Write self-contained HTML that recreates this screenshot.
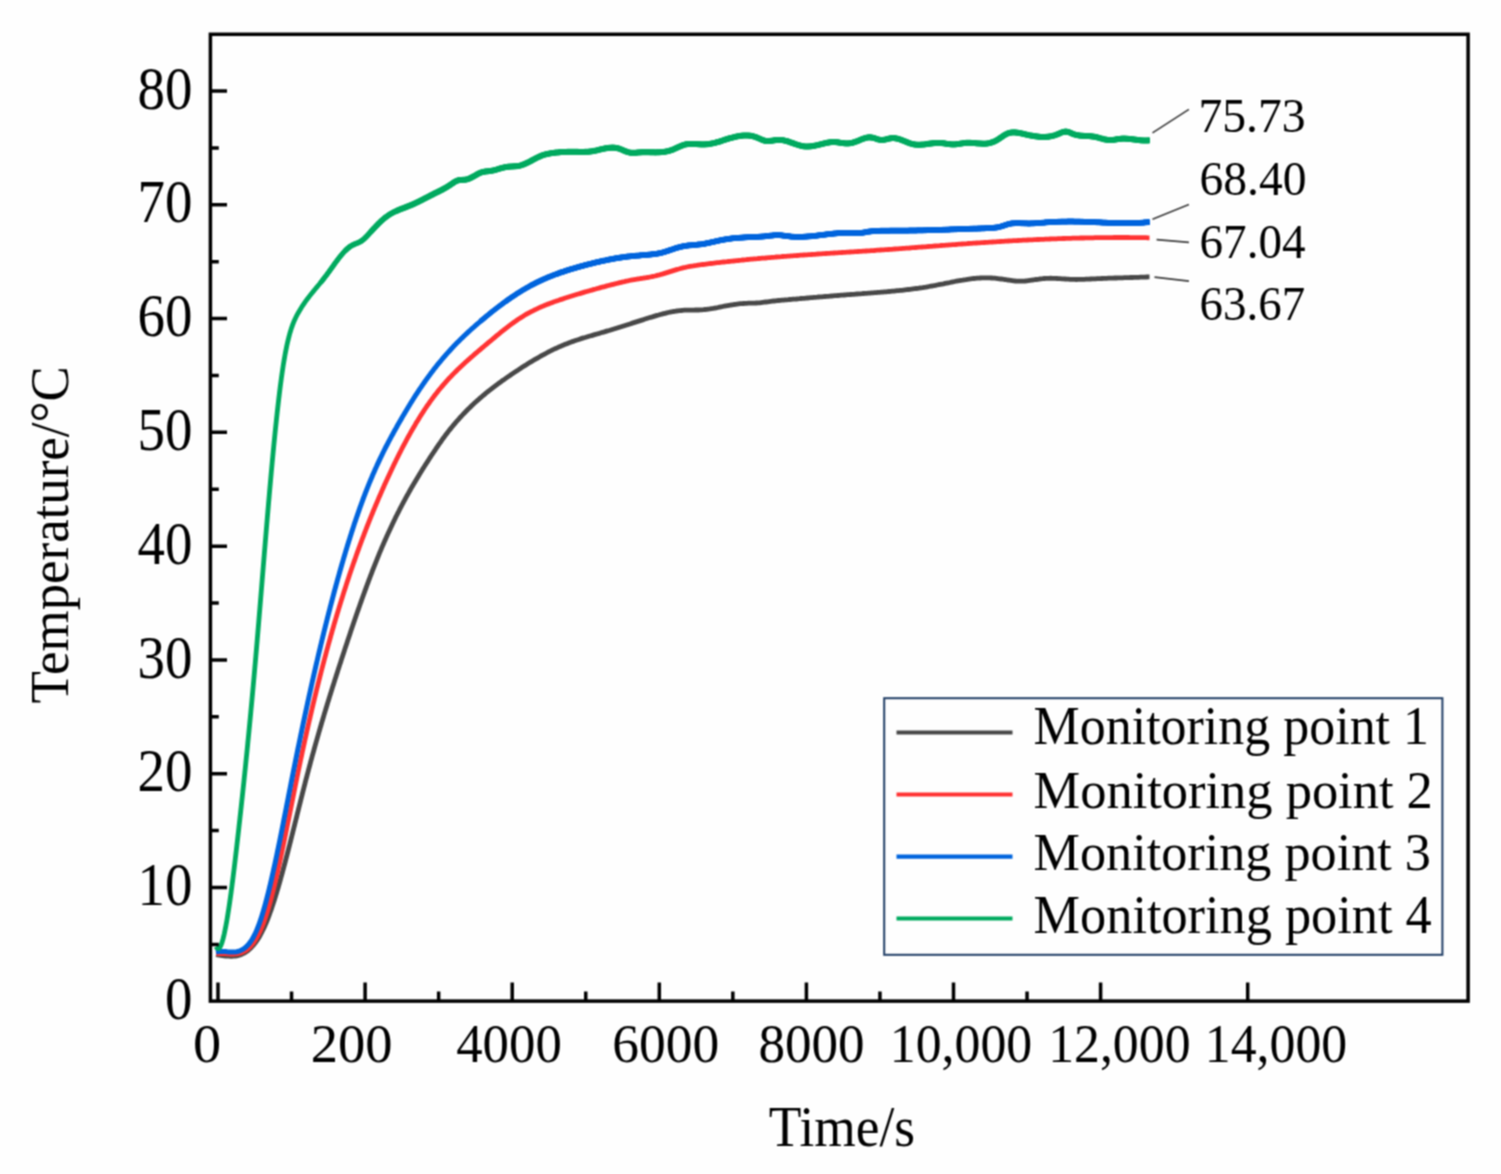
<!DOCTYPE html>
<html><head><meta charset="utf-8"><title>Temperature vs Time</title>
<style>html,body{margin:0;padding:0;background:#fefefe;overflow:hidden;width:1501px;height:1174px;}svg{display:block;}</style>
</head><body>
<svg width="1501" height="1174" viewBox="0 0 1501 1174"><defs><filter id="bl" x="0" y="0" width="100%" height="100%" color-interpolation-filters="sRGB"><feConvolveMatrix order="3" kernelMatrix="1 2 1 2 4 2 1 2 1" divisor="16" edgeMode="duplicate" preserveAlpha="false"/></filter></defs><g filter="url(#bl)"><rect x="0" y="0" width="1501" height="1174" fill="#fefefe"/>
<path d="M216.0,954.6 L217.6,954.8 L219.2,955.1 L220.8,955.3 L222.4,955.6 L224.0,955.8 L225.6,956.0 L227.2,956.1 L228.8,956.2 L230.4,956.3 L232.0,956.3 L233.6,956.2 L235.2,956.0 L236.8,955.8 L238.4,955.4 L240.0,954.9 L241.5,954.4 L243.0,953.7 L244.5,952.9 L245.9,952.0 L247.3,951.0 L248.6,950.0 L249.9,948.9 L251.1,947.7 L252.3,946.4 L253.4,945.2 L254.5,943.8 L255.5,942.5 L256.5,941.1 L257.4,939.8 L258.3,938.4 L259.2,936.9 L260.1,935.4 L260.9,933.9 L261.7,932.4 L262.5,930.8 L263.3,929.2 L264.0,927.7 L264.7,926.2 L265.4,924.6 L266.1,923.0 L266.8,921.3 L267.4,919.8 L268.0,918.3 L268.6,916.7 L269.2,915.1 L269.8,913.5 L270.4,911.8 L271.0,910.1 L271.6,908.4 L272.2,906.6 L272.8,904.8 L273.3,903.3 L273.8,901.8 L274.3,900.2 L274.8,898.6 L275.3,897.0 L275.8,895.4 L276.3,893.8 L276.8,892.1 L277.3,890.4 L277.8,888.7 L278.3,887.0 L278.8,885.3 L279.3,883.5 L279.8,881.8 L280.3,880.0 L280.8,878.2 L281.3,876.4 L281.8,874.6 L282.3,872.8 L282.8,870.9 L283.3,869.1 L283.8,867.2 L284.3,865.3 L284.8,863.5 L285.3,861.6 L285.8,859.7 L286.3,857.7 L286.8,855.8 L287.3,853.9 L287.7,852.3 L288.1,850.8 L288.5,849.2 L288.9,847.6 L289.3,846.1 L289.7,844.5 L290.1,842.9 L290.5,841.3 L290.9,839.7 L291.3,838.1 L291.7,836.5 L292.1,834.9 L292.5,833.3 L292.9,831.7 L293.3,830.1 L293.7,828.5 L294.1,826.9 L294.5,825.3 L294.9,823.7 L295.3,822.1 L295.7,820.5 L296.1,818.9 L296.5,817.3 L296.9,815.7 L297.3,814.0 L297.7,812.4 L298.1,810.8 L298.5,809.2 L298.9,807.6 L299.3,806.0 L299.7,804.4 L300.1,802.8 L300.5,801.2 L300.9,799.6 L301.3,798.0 L301.7,796.4 L302.1,794.8 L302.5,793.2 L302.9,791.6 L303.3,790.1 L303.7,788.5 L304.1,786.9 L304.5,785.3 L304.9,783.8 L305.3,782.2 L305.7,780.7 L306.2,778.7 L306.7,776.8 L307.2,774.9 L307.7,773.0 L308.2,771.1 L308.7,769.2 L309.2,767.3 L309.7,765.5 L310.2,763.6 L310.7,761.7 L311.2,759.9 L311.7,758.1 L312.2,756.2 L312.7,754.4 L313.2,752.6 L313.7,750.8 L314.2,749.0 L314.7,747.2 L315.2,745.4 L315.7,743.6 L316.2,741.9 L316.7,740.1 L317.2,738.3 L317.7,736.6 L318.2,734.8 L318.7,733.1 L319.2,731.4 L319.7,729.7 L320.2,727.9 L320.7,726.2 L321.2,724.5 L321.7,722.8 L322.2,721.1 L322.7,719.5 L323.2,717.8 L323.7,716.1 L324.2,714.4 L324.7,712.8 L325.2,711.1 L325.7,709.5 L326.2,707.8 L326.7,706.2 L327.2,704.5 L327.7,702.9 L328.2,701.3 L328.7,699.7 L329.2,698.0 L329.7,696.4 L330.2,694.8 L330.7,693.2 L331.2,691.6 L331.7,690.0 L332.2,688.4 L332.7,686.8 L333.2,685.2 L333.7,683.7 L334.2,682.1 L334.7,680.5 L335.2,678.9 L335.7,677.4 L336.2,675.8 L336.7,674.3 L337.2,672.7 L337.7,671.1 L338.2,669.6 L338.7,668.0 L339.2,666.5 L339.7,664.9 L340.2,663.4 L340.7,661.9 L341.2,660.3 L341.7,658.8 L342.2,657.3 L342.7,655.7 L343.2,654.2 L343.7,652.7 L344.2,651.2 L344.7,649.6 L345.3,647.8 L345.9,646.0 L346.5,644.2 L347.1,642.4 L347.7,640.6 L348.3,638.8 L348.9,637.0 L349.5,635.2 L350.1,633.4 L350.7,631.6 L351.3,629.8 L351.9,628.0 L352.5,626.3 L353.1,624.5 L353.7,622.8 L354.3,621.0 L354.9,619.3 L355.5,617.5 L356.1,615.8 L356.7,614.0 L357.3,612.3 L357.9,610.6 L358.5,608.9 L359.1,607.2 L359.7,605.5 L360.3,603.8 L360.9,602.1 L361.5,600.4 L362.1,598.7 L362.7,597.0 L363.3,595.4 L363.9,593.7 L364.5,592.1 L365.1,590.4 L365.7,588.8 L366.3,587.1 L366.9,585.5 L367.5,583.9 L368.1,582.3 L368.7,580.7 L369.3,579.1 L369.9,577.5 L370.5,575.9 L371.1,574.3 L371.7,572.8 L372.3,571.2 L372.9,569.7 L373.5,568.1 L374.1,566.6 L374.7,565.1 L375.3,563.6 L375.9,562.1 L376.5,560.6 L377.1,559.1 L377.8,557.3 L378.5,555.6 L379.2,553.9 L379.9,552.2 L380.6,550.6 L381.3,548.9 L382.0,547.2 L382.7,545.6 L383.4,544.0 L384.1,542.4 L384.8,540.8 L385.5,539.2 L386.2,537.6 L386.9,536.0 L387.6,534.5 L388.3,532.9 L389.0,531.4 L389.7,529.9 L390.4,528.4 L391.1,526.9 L391.8,525.4 L392.5,523.9 L393.2,522.5 L393.9,521.0 L394.6,519.6 L395.4,517.9 L396.2,516.3 L397.0,514.7 L397.8,513.1 L398.6,511.6 L399.4,510.0 L400.2,508.4 L401.0,506.9 L401.8,505.4 L402.6,503.8 L403.4,502.3 L404.2,500.9 L405.0,499.4 L405.8,497.9 L406.6,496.4 L407.4,495.0 L408.2,493.6 L409.0,492.1 L409.8,490.7 L410.6,489.3 L411.4,487.9 L412.2,486.5 L413.1,485.0 L414.0,483.4 L414.9,481.9 L415.8,480.4 L416.7,478.9 L417.6,477.4 L418.5,475.9 L419.4,474.4 L420.3,473.0 L421.2,471.5 L422.1,470.1 L423.0,468.6 L423.9,467.2 L424.8,465.8 L425.7,464.4 L426.6,463.0 L427.5,461.6 L428.4,460.2 L429.3,458.8 L430.2,457.4 L431.1,456.0 L432.0,454.7 L432.9,453.3 L433.8,452.0 L434.7,450.6 L435.6,449.3 L436.5,447.9 L437.4,446.6 L438.4,445.1 L439.4,443.7 L440.4,442.3 L441.4,440.8 L442.4,439.4 L443.4,438.0 L444.4,436.7 L445.4,435.3 L446.4,434.0 L447.4,432.7 L448.4,431.4 L449.4,430.1 L450.4,428.9 L451.5,427.5 L452.6,426.2 L453.7,424.8 L454.8,423.6 L455.9,422.3 L457.0,421.0 L458.1,419.8 L459.2,418.6 L460.3,417.3 L461.4,416.2 L462.5,415.0 L463.7,413.7 L464.9,412.5 L466.1,411.2 L467.3,410.0 L468.5,408.8 L469.7,407.7 L470.9,406.5 L472.1,405.3 L473.3,404.2 L474.5,403.1 L475.7,402.0 L476.9,400.9 L478.1,399.9 L479.4,398.7 L480.7,397.6 L482.0,396.5 L483.3,395.4 L484.6,394.3 L485.9,393.2 L487.2,392.2 L488.5,391.1 L489.8,390.1 L491.1,389.1 L492.4,388.1 L493.7,387.1 L495.0,386.1 L496.3,385.1 L497.6,384.2 L498.9,383.2 L500.2,382.3 L501.5,381.3 L502.9,380.3 L504.3,379.4 L505.7,378.4 L507.1,377.4 L508.5,376.4 L509.9,375.5 L511.3,374.5 L512.7,373.6 L514.1,372.6 L515.5,371.7 L516.9,370.8 L518.3,369.9 L519.7,368.9 L521.1,368.0 L522.5,367.1 L523.9,366.2 L525.3,365.4 L526.7,364.5 L528.1,363.6 L529.5,362.7 L530.9,361.9 L532.3,361.1 L533.7,360.2 L535.1,359.4 L536.5,358.6 L537.9,357.8 L539.3,357.0 L540.7,356.2 L542.1,355.4 L543.6,354.6 L545.1,353.8 L546.6,353.0 L548.1,352.2 L549.6,351.4 L551.1,350.7 L552.6,349.9 L554.1,349.2 L555.6,348.5 L557.1,347.8 L558.6,347.1 L560.1,346.5 L561.6,345.8 L563.1,345.2 L564.6,344.6 L566.1,344.0 L567.6,343.4 L569.1,342.8 L570.7,342.2 L572.3,341.6 L573.9,341.1 L575.5,340.5 L577.1,340.0 L578.7,339.5 L580.3,338.9 L581.9,338.4 L583.5,337.9 L585.1,337.5 L586.7,337.0 L588.3,336.5 L589.9,336.0 L591.5,335.6 L593.1,335.1 L594.7,334.6 L596.3,334.2 L597.9,333.7 L599.5,333.3 L601.1,332.8 L602.7,332.3 L604.3,331.9 L605.9,331.4 L607.5,330.9 L609.1,330.5 L610.7,330.0 L612.3,329.5 L613.9,329.0 L615.5,328.5 L617.1,328.0 L618.7,327.5 L620.3,327.0 L621.9,326.5 L623.5,326.0 L625.1,325.5 L626.7,325.0 L628.3,324.5 L629.9,324.0 L631.5,323.4 L633.1,322.9 L634.7,322.4 L636.3,321.9 L637.9,321.4 L639.5,320.9 L641.1,320.4 L642.7,319.9 L644.3,319.3 L645.9,318.8 L647.5,318.3 L649.1,317.8 L650.7,317.3 L652.3,316.9 L653.9,316.4 L655.5,315.9 L657.1,315.4 L658.7,315.0 L660.3,314.5 L661.9,314.1 L663.5,313.7 L665.1,313.3 L666.7,312.9 L668.3,312.5 L669.9,312.2 L671.5,311.8 L673.1,311.5 L674.7,311.3 L676.3,311.0 L677.9,310.8 L679.5,310.6 L681.1,310.5 L682.7,310.3 L684.3,310.2 L685.9,310.2 L687.5,310.1 L689.1,310.1 L690.7,310.1 L692.3,310.1 L693.9,310.1 L695.5,310.0 L697.1,310.0 L698.7,310.0 L700.3,309.9 L701.9,309.8 L703.5,309.7 L705.1,309.5 L706.7,309.4 L708.3,309.1 L709.9,308.9 L711.5,308.6 L713.1,308.4 L714.7,308.1 L716.3,307.8 L717.9,307.5 L719.5,307.1 L721.1,306.8 L722.7,306.5 L724.3,306.2 L725.9,305.9 L727.5,305.6 L729.1,305.3 L730.7,305.0 L732.3,304.8 L733.9,304.5 L735.5,304.3 L737.1,304.1 L738.7,303.9 L740.3,303.7 L741.9,303.6 L743.5,303.5 L745.1,303.4 L746.7,303.3 L748.3,303.2 L749.9,303.2 L751.5,303.2 L753.1,303.1 L754.7,303.1 L756.3,303.0 L757.9,302.9 L759.5,302.8 L761.1,302.6 L762.7,302.4 L764.3,302.2 L765.9,302.0 L767.5,301.8 L769.1,301.6 L770.7,301.4 L772.3,301.2 L773.9,301.0 L775.5,300.9 L777.1,300.7 L778.7,300.5 L780.3,300.4 L781.9,300.2 L783.5,300.1 L785.1,299.9 L786.7,299.8 L788.3,299.7 L789.9,299.5 L791.5,299.4 L793.1,299.2 L794.7,299.1 L796.3,299.0 L797.9,298.8 L799.5,298.7 L801.1,298.5 L802.7,298.4 L804.3,298.3 L805.9,298.1 L807.5,298.0 L809.1,297.9 L810.7,297.7 L812.3,297.6 L813.9,297.4 L815.5,297.3 L817.1,297.2 L818.7,297.0 L820.3,296.9 L821.9,296.8 L823.5,296.6 L825.1,296.5 L826.7,296.4 L828.3,296.3 L829.9,296.1 L831.5,296.0 L833.1,295.9 L834.7,295.7 L836.3,295.6 L837.9,295.5 L839.5,295.4 L841.1,295.2 L842.7,295.1 L844.3,295.0 L845.9,294.9 L847.5,294.7 L849.1,294.6 L850.7,294.5 L852.3,294.4 L853.9,294.3 L855.5,294.1 L857.1,294.0 L858.7,293.9 L860.3,293.8 L861.9,293.7 L863.5,293.5 L865.1,293.4 L866.7,293.3 L868.3,293.2 L869.9,293.1 L871.5,292.9 L873.1,292.8 L874.7,292.7 L876.3,292.6 L877.9,292.4 L879.5,292.3 L881.1,292.2 L882.7,292.1 L884.3,291.9 L885.9,291.8 L887.5,291.6 L889.1,291.5 L890.7,291.4 L892.3,291.2 L893.9,291.1 L895.5,290.9 L897.1,290.7 L898.7,290.6 L900.3,290.4 L901.9,290.3 L903.5,290.1 L905.1,289.9 L906.7,289.7 L908.3,289.5 L909.9,289.3 L911.5,289.1 L913.1,288.9 L914.7,288.7 L916.3,288.5 L917.9,288.3 L919.5,288.0 L921.1,287.8 L922.7,287.6 L924.3,287.3 L925.9,287.1 L927.5,286.8 L929.1,286.5 L930.7,286.2 L932.3,286.0 L933.9,285.7 L935.5,285.4 L937.1,285.0 L938.7,284.7 L940.3,284.4 L941.9,284.1 L943.5,283.8 L945.1,283.4 L946.7,283.1 L948.3,282.8 L949.9,282.5 L951.5,282.1 L953.1,281.8 L954.7,281.5 L956.3,281.2 L957.9,280.9 L959.5,280.6 L961.1,280.3 L962.7,280.1 L964.3,279.8 L965.9,279.6 L967.5,279.3 L969.1,279.1 L970.7,278.9 L972.3,278.7 L973.9,278.5 L975.5,278.4 L977.1,278.2 L978.7,278.1 L980.3,278.0 L981.9,277.9 L983.5,277.9 L985.1,277.9 L986.7,277.8 L988.3,277.9 L989.9,277.9 L991.5,278.0 L993.1,278.1 L994.7,278.2 L996.3,278.4 L997.9,278.6 L999.5,278.8 L1001.1,279.0 L1002.7,279.2 L1004.3,279.5 L1005.9,279.7 L1007.5,280.0 L1009.1,280.2 L1010.7,280.4 L1012.3,280.6 L1013.9,280.8 L1015.5,281.0 L1017.1,281.1 L1018.7,281.2 L1020.3,281.2 L1021.9,281.2 L1023.5,281.1 L1025.1,281.0 L1026.7,280.8 L1028.3,280.6 L1029.9,280.4 L1031.5,280.2 L1033.1,280.0 L1034.7,279.7 L1036.3,279.5 L1037.9,279.3 L1039.5,279.0 L1041.1,278.8 L1042.7,278.7 L1044.3,278.5 L1045.9,278.4 L1047.5,278.3 L1049.1,278.3 L1050.7,278.2 L1052.3,278.3 L1053.9,278.3 L1055.5,278.4 L1057.1,278.5 L1058.7,278.6 L1060.3,278.7 L1061.9,278.8 L1063.5,278.9 L1065.1,279.0 L1066.7,279.1 L1068.3,279.2 L1069.9,279.3 L1071.5,279.4 L1073.1,279.4 L1074.7,279.4 L1076.3,279.5 L1077.9,279.4 L1079.5,279.4 L1081.1,279.4 L1082.7,279.4 L1084.3,279.3 L1085.9,279.2 L1087.5,279.2 L1089.1,279.1 L1090.7,279.0 L1092.3,278.9 L1093.9,278.9 L1095.5,278.8 L1097.1,278.7 L1098.7,278.6 L1100.3,278.6 L1101.9,278.5 L1103.5,278.4 L1105.1,278.4 L1106.7,278.3 L1108.3,278.2 L1109.9,278.2 L1111.5,278.1 L1113.1,278.1 L1114.7,278.0 L1116.3,278.0 L1117.9,277.9 L1119.5,277.9 L1121.1,277.8 L1122.7,277.8 L1124.3,277.7 L1125.9,277.7 L1127.5,277.6 L1129.1,277.6 L1130.7,277.5 L1132.3,277.5 L1133.9,277.4 L1135.5,277.4 L1137.1,277.3 L1138.7,277.3 L1140.3,277.2 L1141.9,277.2 L1143.5,277.1 L1145.1,277.1 L1146.7,277.0 L1148.3,276.9 L1149.5,276.9" fill="none" stroke="#484848" stroke-width="4.8" stroke-linejoin="round" stroke-linecap="butt"/>
<path d="M216.0,953.7 L217.6,953.6 L219.2,953.5 L220.8,953.4 L222.4,953.5 L224.0,953.6 L225.6,953.7 L227.2,953.8 L228.8,953.9 L230.4,954.0 L232.0,954.0 L233.6,954.0 L235.2,953.9 L236.8,953.8 L238.4,953.5 L240.0,953.1 L241.6,952.6 L243.1,951.9 L244.6,951.2 L246.0,950.3 L247.3,949.3 L248.6,948.2 L249.8,947.1 L251.0,945.8 L252.1,944.5 L253.1,943.3 L254.1,941.9 L255.0,940.5 L255.9,939.1 L256.8,937.6 L257.6,936.1 L258.4,934.6 L259.2,933.0 L259.9,931.6 L260.6,930.0 L261.3,928.4 L262.0,926.8 L262.7,925.0 L263.3,923.5 L263.9,921.9 L264.5,920.2 L265.1,918.5 L265.7,916.8 L266.3,915.0 L266.8,913.4 L267.3,911.8 L267.8,910.2 L268.3,908.5 L268.8,906.8 L269.3,905.1 L269.8,903.3 L270.3,901.5 L270.8,899.7 L271.3,897.8 L271.8,895.9 L272.3,893.9 L272.7,892.4 L273.1,890.8 L273.5,889.2 L273.9,887.6 L274.3,885.9 L274.7,884.2 L275.1,882.6 L275.5,880.9 L275.9,879.2 L276.3,877.4 L276.7,875.7 L277.1,874.0 L277.5,872.2 L277.9,870.4 L278.3,868.6 L278.7,866.8 L279.1,865.0 L279.5,863.2 L279.9,861.3 L280.3,859.5 L280.7,857.6 L281.1,855.7 L281.5,853.8 L281.9,851.9 L282.3,850.0 L282.7,848.1 L283.1,846.2 L283.5,844.3 L283.9,842.3 L284.3,840.4 L284.7,838.4 L285.1,836.5 L285.5,834.5 L285.9,832.6 L286.3,830.6 L286.7,828.6 L287.1,826.6 L287.5,824.6 L287.9,822.6 L288.3,820.7 L288.7,818.7 L289.1,816.7 L289.5,814.7 L289.9,812.7 L290.3,810.7 L290.7,808.7 L291.1,806.7 L291.5,804.7 L291.9,802.7 L292.3,800.7 L292.7,798.7 L293.1,796.7 L293.5,794.7 L293.9,792.7 L294.3,790.7 L294.7,788.7 L295.1,786.7 L295.5,784.8 L295.9,782.8 L296.3,780.8 L296.7,778.9 L297.1,776.9 L297.5,775.0 L297.9,773.0 L298.3,771.1 L298.7,769.2 L299.1,767.2 L299.5,765.3 L299.9,763.4 L300.3,761.5 L300.7,759.6 L301.1,757.8 L301.5,755.9 L301.9,754.0 L302.3,752.1 L302.7,750.3 L303.1,748.4 L303.5,746.6 L303.9,744.8 L304.3,742.9 L304.7,741.1 L305.1,739.3 L305.5,737.5 L305.9,735.7 L306.3,733.9 L306.7,732.1 L307.1,730.3 L307.5,728.6 L307.9,726.8 L308.3,725.0 L308.7,723.3 L309.1,721.5 L309.5,719.8 L309.9,718.1 L310.3,716.3 L310.7,714.6 L311.1,712.9 L311.5,711.2 L311.9,709.5 L312.3,707.8 L312.7,706.1 L313.1,704.4 L313.5,702.7 L313.9,701.1 L314.3,699.4 L314.7,697.7 L315.1,696.1 L315.5,694.4 L315.9,692.8 L316.3,691.2 L316.7,689.5 L317.1,687.9 L317.5,686.3 L317.9,684.7 L318.3,683.1 L318.7,681.5 L319.1,679.9 L319.5,678.3 L319.9,676.7 L320.3,675.2 L320.7,673.6 L321.1,672.0 L321.5,670.5 L322.0,668.5 L322.5,666.6 L323.0,664.7 L323.5,662.8 L324.0,660.9 L324.5,659.0 L325.0,657.1 L325.5,655.3 L326.0,653.4 L326.5,651.5 L327.0,649.7 L327.5,647.9 L328.0,646.0 L328.5,644.2 L329.0,642.4 L329.5,640.6 L330.0,638.8 L330.5,637.0 L331.0,635.2 L331.5,633.5 L332.0,631.7 L332.5,629.9 L333.0,628.2 L333.5,626.5 L334.0,624.7 L334.5,623.0 L335.0,621.3 L335.5,619.6 L336.0,617.9 L336.5,616.2 L337.0,614.5 L337.5,612.9 L338.0,611.2 L338.5,609.6 L339.0,607.9 L339.5,606.3 L340.0,604.6 L340.5,603.0 L341.0,601.4 L341.5,599.8 L342.0,598.2 L342.5,596.6 L343.0,595.0 L343.5,593.4 L344.0,591.8 L344.5,590.3 L345.0,588.7 L345.5,587.2 L346.0,585.6 L346.5,584.1 L347.0,582.6 L347.5,581.0 L348.1,579.2 L348.7,577.4 L349.3,575.6 L349.9,573.8 L350.5,572.0 L351.1,570.3 L351.7,568.5 L352.3,566.8 L352.9,565.0 L353.5,563.3 L354.1,561.6 L354.7,559.9 L355.3,558.2 L355.9,556.5 L356.5,554.8 L357.1,553.1 L357.7,551.4 L358.3,549.8 L358.9,548.1 L359.5,546.5 L360.1,544.9 L360.7,543.2 L361.3,541.6 L361.9,540.0 L362.5,538.4 L363.1,536.8 L363.7,535.3 L364.3,533.7 L364.9,532.1 L365.5,530.6 L366.1,529.0 L366.7,527.5 L367.3,525.9 L367.9,524.4 L368.5,522.9 L369.1,521.4 L369.7,519.9 L370.3,518.4 L370.9,516.9 L371.6,515.2 L372.3,513.5 L373.0,511.7 L373.7,510.0 L374.4,508.4 L375.1,506.7 L375.8,505.0 L376.5,503.3 L377.2,501.7 L377.9,500.1 L378.6,498.4 L379.3,496.8 L380.0,495.2 L380.7,493.6 L381.4,492.0 L382.1,490.4 L382.8,488.8 L383.5,487.2 L384.2,485.6 L384.9,484.1 L385.6,482.5 L386.3,481.0 L387.0,479.5 L387.7,477.9 L388.4,476.4 L389.1,474.9 L389.8,473.4 L390.5,471.9 L391.2,470.4 L391.9,468.9 L392.6,467.5 L393.3,466.0 L394.0,464.5 L394.7,463.1 L395.5,461.5 L396.3,459.8 L397.1,458.2 L397.9,456.6 L398.7,455.0 L399.5,453.4 L400.3,451.9 L401.1,450.3 L401.9,448.7 L402.7,447.2 L403.5,445.7 L404.3,444.2 L405.1,442.6 L405.9,441.2 L406.7,439.7 L407.5,438.2 L408.3,436.7 L409.1,435.3 L409.9,433.9 L410.7,432.4 L411.5,431.0 L412.3,429.6 L413.1,428.2 L414.0,426.7 L414.9,425.2 L415.8,423.6 L416.7,422.1 L417.6,420.7 L418.5,419.2 L419.4,417.7 L420.3,416.3 L421.2,414.9 L422.1,413.5 L423.0,412.1 L423.9,410.7 L424.8,409.3 L425.7,408.0 L426.6,406.7 L427.6,405.2 L428.6,403.8 L429.6,402.3 L430.6,400.9 L431.6,399.6 L432.6,398.2 L433.6,396.9 L434.6,395.5 L435.6,394.2 L436.6,393.0 L437.6,391.7 L438.7,390.3 L439.8,389.0 L440.9,387.7 L442.0,386.4 L443.1,385.1 L444.2,383.8 L445.3,382.6 L446.4,381.3 L447.5,380.1 L448.6,378.9 L449.7,377.7 L450.8,376.6 L452.0,375.3 L453.2,374.1 L454.4,372.9 L455.6,371.7 L456.8,370.5 L458.0,369.3 L459.2,368.2 L460.4,367.0 L461.6,365.9 L462.8,364.8 L464.0,363.7 L465.2,362.6 L466.4,361.5 L467.6,360.4 L468.8,359.4 L470.1,358.2 L471.4,357.1 L472.7,356.0 L474.0,354.8 L475.3,353.7 L476.6,352.6 L477.9,351.5 L479.2,350.4 L480.5,349.3 L481.8,348.2 L483.1,347.1 L484.4,346.0 L485.7,344.9 L487.0,343.8 L488.3,342.7 L489.6,341.6 L490.9,340.6 L492.2,339.5 L493.5,338.4 L494.8,337.3 L496.1,336.2 L497.4,335.1 L498.7,334.1 L500.0,333.0 L501.3,331.9 L502.6,330.9 L503.9,329.9 L505.2,328.8 L506.5,327.8 L507.8,326.8 L509.1,325.8 L510.4,324.9 L511.7,323.9 L513.0,323.0 L514.4,321.9 L515.8,321.0 L517.2,320.0 L518.6,319.1 L520.0,318.1 L521.4,317.3 L522.8,316.4 L524.2,315.5 L525.6,314.7 L527.0,313.9 L528.4,313.1 L529.9,312.3 L531.4,311.5 L532.9,310.8 L534.4,310.0 L535.9,309.3 L537.4,308.6 L538.9,307.9 L540.4,307.2 L541.9,306.6 L543.4,305.9 L544.9,305.3 L546.4,304.7 L547.9,304.1 L549.4,303.6 L550.9,303.0 L552.5,302.4 L554.1,301.8 L555.7,301.3 L557.3,300.7 L558.9,300.2 L560.5,299.6 L562.1,299.1 L563.7,298.6 L565.3,298.0 L566.9,297.5 L568.5,297.0 L570.1,296.5 L571.7,296.0 L573.3,295.5 L574.9,295.0 L576.5,294.5 L578.1,294.0 L579.7,293.6 L581.3,293.1 L582.9,292.6 L584.5,292.1 L586.1,291.7 L587.7,291.2 L589.3,290.8 L590.9,290.3 L592.5,289.9 L594.1,289.4 L595.7,289.0 L597.3,288.5 L598.9,288.1 L600.5,287.6 L602.1,287.2 L603.7,286.8 L605.3,286.4 L606.9,285.9 L608.5,285.5 L610.1,285.1 L611.7,284.7 L613.3,284.3 L614.9,283.9 L616.5,283.5 L618.1,283.1 L619.7,282.7 L621.3,282.3 L622.9,281.9 L624.5,281.6 L626.1,281.2 L627.7,280.9 L629.3,280.5 L630.9,280.2 L632.5,279.9 L634.1,279.6 L635.7,279.3 L637.3,279.0 L638.9,278.8 L640.5,278.5 L642.1,278.3 L643.7,278.0 L645.3,277.8 L646.9,277.5 L648.5,277.3 L650.1,277.0 L651.7,276.7 L653.3,276.3 L654.9,276.0 L656.5,275.6 L658.1,275.2 L659.7,274.8 L661.3,274.3 L662.9,273.9 L664.5,273.4 L666.1,272.9 L667.7,272.4 L669.3,271.9 L670.9,271.4 L672.5,270.9 L674.1,270.4 L675.7,269.9 L677.3,269.4 L678.9,269.0 L680.5,268.5 L682.1,268.1 L683.7,267.7 L685.3,267.4 L686.9,267.0 L688.5,266.7 L690.1,266.4 L691.7,266.1 L693.3,265.9 L694.9,265.6 L696.5,265.4 L698.1,265.1 L699.7,264.9 L701.3,264.7 L702.9,264.5 L704.5,264.3 L706.1,264.1 L707.7,263.9 L709.3,263.7 L710.9,263.5 L712.5,263.3 L714.1,263.1 L715.7,262.9 L717.3,262.7 L718.9,262.6 L720.5,262.4 L722.1,262.2 L723.7,262.0 L725.3,261.8 L726.9,261.7 L728.5,261.5 L730.1,261.3 L731.7,261.1 L733.3,261.0 L734.9,260.8 L736.5,260.6 L738.1,260.5 L739.7,260.3 L741.3,260.2 L742.9,260.0 L744.5,259.8 L746.1,259.7 L747.7,259.5 L749.3,259.4 L750.9,259.2 L752.5,259.1 L754.1,258.9 L755.7,258.8 L757.3,258.7 L758.9,258.5 L760.5,258.4 L762.1,258.2 L763.7,258.1 L765.3,258.0 L766.9,257.8 L768.5,257.7 L770.1,257.6 L771.7,257.4 L773.3,257.3 L774.9,257.2 L776.5,257.0 L778.1,256.9 L779.7,256.8 L781.3,256.7 L782.9,256.5 L784.5,256.4 L786.1,256.3 L787.7,256.2 L789.3,256.1 L790.9,255.9 L792.5,255.8 L794.1,255.7 L795.7,255.6 L797.3,255.5 L798.9,255.4 L800.5,255.2 L802.1,255.1 L803.7,255.0 L805.3,254.9 L806.9,254.8 L808.5,254.7 L810.1,254.6 L811.7,254.5 L813.3,254.4 L814.9,254.3 L816.5,254.1 L818.1,254.0 L819.7,253.9 L821.3,253.8 L822.9,253.7 L824.5,253.6 L826.1,253.5 L827.7,253.4 L829.3,253.3 L830.9,253.2 L832.5,253.1 L834.1,253.0 L835.7,252.9 L837.3,252.8 L838.9,252.7 L840.5,252.6 L842.1,252.5 L843.7,252.4 L845.3,252.3 L846.9,252.2 L848.5,252.1 L850.1,252.0 L851.7,251.9 L853.3,251.8 L854.9,251.7 L856.5,251.6 L858.1,251.5 L859.7,251.4 L861.3,251.3 L862.9,251.2 L864.5,251.1 L866.1,251.0 L867.7,250.9 L869.3,250.8 L870.9,250.7 L872.5,250.6 L874.1,250.5 L875.7,250.3 L877.3,250.2 L878.9,250.1 L880.5,250.0 L882.1,249.9 L883.7,249.8 L885.3,249.7 L886.9,249.6 L888.5,249.5 L890.1,249.4 L891.7,249.3 L893.3,249.1 L894.9,249.0 L896.5,248.9 L898.1,248.8 L899.7,248.7 L901.3,248.6 L902.9,248.4 L904.5,248.3 L906.1,248.2 L907.7,248.1 L909.3,248.0 L910.9,247.8 L912.5,247.7 L914.1,247.6 L915.7,247.5 L917.3,247.4 L918.9,247.2 L920.5,247.1 L922.1,247.0 L923.7,246.9 L925.3,246.8 L926.9,246.6 L928.5,246.5 L930.1,246.4 L931.7,246.3 L933.3,246.1 L934.9,246.0 L936.5,245.9 L938.1,245.8 L939.7,245.7 L941.3,245.5 L942.9,245.4 L944.5,245.3 L946.1,245.2 L947.7,245.1 L949.3,244.9 L950.9,244.8 L952.5,244.7 L954.1,244.6 L955.7,244.5 L957.3,244.3 L958.9,244.2 L960.5,244.1 L962.1,244.0 L963.7,243.9 L965.3,243.8 L966.9,243.7 L968.5,243.5 L970.1,243.4 L971.7,243.3 L973.3,243.2 L974.9,243.1 L976.5,243.0 L978.1,242.9 L979.7,242.8 L981.3,242.7 L982.9,242.6 L984.5,242.5 L986.1,242.4 L987.7,242.3 L989.3,242.2 L990.9,242.1 L992.5,242.0 L994.1,241.9 L995.7,241.8 L997.3,241.7 L998.9,241.6 L1000.5,241.5 L1002.1,241.4 L1003.7,241.3 L1005.3,241.2 L1006.9,241.1 L1008.5,241.0 L1010.1,240.9 L1011.7,240.8 L1013.3,240.7 L1014.9,240.6 L1016.5,240.6 L1018.1,240.5 L1019.7,240.4 L1021.3,240.3 L1022.9,240.2 L1024.5,240.1 L1026.1,240.1 L1027.7,240.0 L1029.3,239.9 L1030.9,239.8 L1032.5,239.8 L1034.1,239.7 L1035.7,239.6 L1037.3,239.5 L1038.9,239.5 L1040.5,239.4 L1042.1,239.3 L1043.7,239.3 L1045.3,239.2 L1046.9,239.1 L1048.5,239.1 L1050.1,239.0 L1051.7,238.9 L1053.3,238.9 L1054.9,238.8 L1056.5,238.8 L1058.1,238.7 L1059.7,238.6 L1061.3,238.6 L1062.9,238.5 L1064.5,238.5 L1066.1,238.4 L1067.7,238.4 L1069.3,238.3 L1070.9,238.3 L1072.5,238.2 L1074.1,238.2 L1075.7,238.1 L1077.3,238.1 L1078.9,238.1 L1080.5,238.0 L1082.1,238.0 L1083.7,238.0 L1085.3,237.9 L1086.9,237.9 L1088.5,237.9 L1090.1,237.8 L1091.7,237.8 L1093.3,237.8 L1094.9,237.7 L1096.5,237.7 L1098.1,237.7 L1099.7,237.7 L1101.3,237.7 L1102.9,237.6 L1104.5,237.6 L1106.1,237.6 L1107.7,237.6 L1109.3,237.6 L1110.9,237.6 L1112.5,237.6 L1114.1,237.5 L1115.7,237.5 L1117.3,237.5 L1118.9,237.5 L1120.5,237.5 L1122.1,237.5 L1123.7,237.5 L1125.3,237.5 L1126.9,237.5 L1128.5,237.5 L1130.1,237.6 L1131.7,237.6 L1133.3,237.6 L1134.9,237.6 L1136.5,237.6 L1138.1,237.6 L1139.7,237.6 L1141.3,237.7 L1142.9,237.7 L1144.5,237.7 L1146.1,237.7 L1147.7,237.8 L1149.3,237.8 L1149.5,237.8" fill="none" stroke="#ff3333" stroke-width="4.8" stroke-linejoin="round" stroke-linecap="butt"/>
<path d="M216.0,952.1 L217.6,951.8 L219.2,951.6 L220.8,951.5 L222.4,951.5 L224.0,951.5 L225.6,951.6 L227.2,951.8 L228.8,951.9 L230.4,952.0 L232.0,952.0 L233.6,952.0 L235.2,951.9 L236.8,951.7 L238.4,951.3 L240.0,950.8 L241.5,950.1 L243.0,949.3 L244.4,948.3 L245.7,947.3 L246.9,946.1 L248.0,945.0 L249.1,943.7 L250.1,942.3 L251.1,940.9 L252.0,939.5 L252.9,937.9 L253.7,936.5 L254.5,934.9 L255.3,933.3 L256.0,931.8 L256.7,930.2 L257.4,928.5 L258.0,927.0 L258.6,925.4 L259.2,923.8 L259.8,922.1 L260.4,920.4 L261.0,918.6 L261.5,917.0 L262.0,915.4 L262.5,913.8 L263.0,912.2 L263.5,910.5 L264.0,908.8 L264.5,907.0 L265.0,905.2 L265.5,903.4 L266.0,901.5 L266.5,899.6 L267.0,897.7 L267.4,896.2 L267.8,894.6 L268.2,893.0 L268.6,891.4 L269.0,889.7 L269.4,888.1 L269.8,886.4 L270.2,884.8 L270.6,883.1 L271.0,881.3 L271.4,879.6 L271.8,877.9 L272.2,876.1 L272.6,874.3 L273.0,872.5 L273.4,870.7 L273.8,868.9 L274.2,867.1 L274.6,865.3 L275.0,863.4 L275.4,861.6 L275.8,859.7 L276.2,857.8 L276.6,855.9 L277.0,854.0 L277.4,852.1 L277.8,850.1 L278.2,848.2 L278.6,846.3 L279.0,844.3 L279.4,842.4 L279.8,840.4 L280.2,838.4 L280.6,836.4 L281.0,834.4 L281.4,832.4 L281.8,830.4 L282.2,828.4 L282.6,826.4 L283.0,824.4 L283.4,822.4 L283.8,820.3 L284.2,818.3 L284.6,816.3 L285.0,814.2 L285.4,812.2 L285.8,810.2 L286.2,808.1 L286.6,806.1 L287.0,804.0 L287.4,802.0 L287.8,799.9 L288.2,797.9 L288.6,795.8 L289.0,793.8 L289.4,791.8 L289.8,789.7 L290.2,787.7 L290.6,785.6 L291.0,783.6 L291.4,781.6 L291.8,779.5 L292.2,777.5 L292.6,775.5 L293.0,773.5 L293.4,771.4 L293.8,769.4 L294.2,767.4 L294.6,765.4 L295.0,763.4 L295.4,761.4 L295.8,759.5 L296.2,757.5 L296.6,755.5 L297.0,753.5 L297.4,751.6 L297.8,749.6 L298.2,747.6 L298.6,745.7 L299.0,743.7 L299.4,741.8 L299.8,739.9 L300.2,737.9 L300.6,736.0 L301.0,734.1 L301.4,732.2 L301.8,730.2 L302.2,728.3 L302.6,726.4 L303.0,724.5 L303.4,722.6 L303.8,720.7 L304.2,718.9 L304.6,717.0 L305.0,715.1 L305.4,713.2 L305.8,711.4 L306.2,709.5 L306.6,707.7 L307.0,705.8 L307.4,704.0 L307.8,702.1 L308.2,700.3 L308.6,698.5 L309.0,696.6 L309.4,694.8 L309.8,693.0 L310.2,691.2 L310.6,689.4 L311.0,687.6 L311.4,685.8 L311.8,684.0 L312.2,682.2 L312.6,680.4 L313.0,678.7 L313.4,676.9 L313.8,675.1 L314.2,673.4 L314.6,671.6 L315.0,669.9 L315.4,668.1 L315.8,666.4 L316.2,664.6 L316.6,662.9 L317.0,661.2 L317.4,659.5 L317.8,657.7 L318.2,656.0 L318.6,654.3 L319.0,652.6 L319.4,650.9 L319.8,649.3 L320.2,647.6 L320.6,645.9 L321.0,644.2 L321.4,642.6 L321.8,640.9 L322.2,639.2 L322.6,637.6 L323.0,635.9 L323.4,634.3 L323.8,632.7 L324.2,631.0 L324.6,629.4 L325.0,627.8 L325.4,626.2 L325.8,624.6 L326.2,623.0 L326.6,621.4 L327.0,619.8 L327.4,618.2 L327.8,616.6 L328.2,615.0 L328.6,613.5 L329.0,611.9 L329.4,610.3 L329.8,608.8 L330.2,607.2 L330.7,605.3 L331.2,603.4 L331.7,601.5 L332.2,599.6 L332.7,597.7 L333.2,595.8 L333.7,593.9 L334.2,592.0 L334.7,590.2 L335.2,588.3 L335.7,586.5 L336.2,584.6 L336.7,582.8 L337.2,581.0 L337.7,579.2 L338.2,577.4 L338.7,575.6 L339.2,573.8 L339.7,572.0 L340.2,570.3 L340.7,568.5 L341.2,566.8 L341.7,565.0 L342.2,563.3 L342.7,561.6 L343.2,559.9 L343.7,558.1 L344.2,556.5 L344.7,554.8 L345.2,553.1 L345.7,551.4 L346.2,549.8 L346.7,548.1 L347.2,546.5 L347.7,544.8 L348.2,543.2 L348.7,541.6 L349.2,540.0 L349.7,538.4 L350.2,536.8 L350.7,535.2 L351.2,533.7 L351.7,532.1 L352.2,530.6 L352.7,529.0 L353.2,527.5 L353.7,526.0 L354.3,524.1 L354.9,522.3 L355.5,520.6 L356.1,518.8 L356.7,517.0 L357.3,515.3 L357.9,513.5 L358.5,511.8 L359.1,510.1 L359.7,508.4 L360.3,506.7 L360.9,505.1 L361.5,503.4 L362.1,501.8 L362.7,500.1 L363.3,498.5 L363.9,496.9 L364.5,495.3 L365.1,493.8 L365.7,492.2 L366.3,490.7 L366.9,489.1 L367.5,487.6 L368.1,486.1 L368.7,484.6 L369.4,482.9 L370.1,481.2 L370.8,479.5 L371.5,477.9 L372.2,476.2 L372.9,474.6 L373.6,473.0 L374.3,471.4 L375.0,469.8 L375.7,468.2 L376.4,466.7 L377.1,465.1 L377.8,463.6 L378.5,462.1 L379.2,460.6 L379.9,459.1 L380.6,457.7 L381.3,456.2 L382.0,454.8 L382.8,453.1 L383.6,451.5 L384.4,449.9 L385.2,448.3 L386.0,446.8 L386.8,445.2 L387.6,443.7 L388.4,442.1 L389.2,440.6 L390.0,439.1 L390.8,437.6 L391.6,436.1 L392.4,434.7 L393.2,433.2 L394.0,431.8 L394.8,430.3 L395.6,428.9 L396.4,427.5 L397.2,426.0 L398.0,424.6 L398.8,423.2 L399.6,421.8 L400.4,420.4 L401.3,418.9 L402.2,417.3 L403.1,415.8 L404.0,414.3 L404.9,412.7 L405.8,411.2 L406.7,409.7 L407.6,408.2 L408.5,406.7 L409.4,405.3 L410.3,403.8 L411.2,402.3 L412.1,400.9 L413.0,399.5 L413.9,398.0 L414.8,396.6 L415.7,395.2 L416.6,393.8 L417.5,392.5 L418.4,391.1 L419.3,389.7 L420.2,388.4 L421.1,387.1 L422.1,385.6 L423.1,384.1 L424.1,382.7 L425.1,381.3 L426.1,379.9 L427.1,378.5 L428.1,377.1 L429.1,375.7 L430.1,374.4 L431.1,373.0 L432.1,371.7 L433.1,370.4 L434.1,369.1 L435.1,367.8 L436.1,366.6 L437.1,365.3 L438.2,363.9 L439.3,362.6 L440.4,361.3 L441.5,360.0 L442.6,358.7 L443.7,357.4 L444.8,356.1 L445.9,354.8 L447.0,353.6 L448.1,352.4 L449.2,351.2 L450.3,350.0 L451.4,348.8 L452.5,347.6 L453.7,346.3 L454.9,345.1 L456.1,343.8 L457.3,342.6 L458.5,341.4 L459.7,340.2 L460.9,339.0 L462.1,337.9 L463.3,336.7 L464.5,335.6 L465.7,334.4 L466.9,333.3 L468.1,332.2 L469.3,331.1 L470.5,330.0 L471.7,328.9 L472.9,327.8 L474.1,326.8 L475.4,325.6 L476.7,324.5 L478.0,323.4 L479.3,322.3 L480.6,321.1 L481.9,320.1 L483.2,319.0 L484.5,317.9 L485.8,316.8 L487.1,315.7 L488.4,314.7 L489.7,313.6 L491.0,312.6 L492.3,311.5 L493.6,310.5 L494.9,309.5 L496.2,308.5 L497.5,307.5 L498.8,306.5 L500.1,305.5 L501.4,304.6 L502.7,303.6 L504.0,302.6 L505.3,301.7 L506.7,300.7 L508.1,299.7 L509.5,298.7 L510.9,297.8 L512.3,296.8 L513.7,295.9 L515.1,295.0 L516.5,294.0 L517.9,293.1 L519.3,292.3 L520.7,291.4 L522.1,290.5 L523.5,289.7 L524.9,288.9 L526.3,288.0 L527.7,287.3 L529.1,286.5 L530.6,285.6 L532.1,284.8 L533.6,284.1 L535.1,283.3 L536.6,282.5 L538.1,281.8 L539.6,281.1 L541.1,280.4 L542.6,279.7 L544.1,279.0 L545.6,278.4 L547.1,277.7 L548.6,277.1 L550.1,276.5 L551.6,275.9 L553.1,275.3 L554.6,274.7 L556.1,274.2 L557.7,273.6 L559.3,273.0 L560.9,272.4 L562.5,271.9 L564.1,271.4 L565.7,270.8 L567.3,270.3 L568.9,269.8 L570.5,269.3 L572.1,268.8 L573.7,268.4 L575.3,267.9 L576.9,267.4 L578.5,267.0 L580.1,266.5 L581.7,266.1 L583.3,265.7 L584.9,265.2 L586.5,264.8 L588.1,264.4 L589.7,264.0 L591.3,263.6 L592.9,263.2 L594.5,262.8 L596.1,262.4 L597.7,262.0 L599.3,261.7 L600.9,261.3 L602.5,260.9 L604.1,260.6 L605.7,260.3 L607.3,259.9 L608.9,259.6 L610.5,259.3 L612.1,259.0 L613.7,258.7 L615.3,258.4 L616.9,258.1 L618.5,257.9 L620.1,257.6 L621.7,257.4 L623.3,257.2 L624.9,256.9 L626.5,256.7 L628.1,256.5 L629.7,256.4 L631.3,256.2 L632.9,256.0 L634.5,255.9 L636.1,255.7 L637.7,255.6 L639.3,255.5 L640.9,255.3 L642.5,255.2 L644.1,255.0 L645.7,254.9 L647.3,254.8 L648.9,254.6 L650.5,254.5 L652.1,254.3 L653.7,254.1 L655.3,253.9 L656.9,253.7 L658.5,253.4 L660.1,253.1 L661.7,252.7 L663.3,252.3 L664.9,251.8 L666.5,251.3 L668.1,250.8 L669.7,250.2 L671.3,249.7 L672.9,249.2 L674.5,248.6 L676.1,248.1 L677.7,247.6 L679.3,247.2 L680.9,246.8 L682.5,246.4 L684.1,246.1 L685.7,245.8 L687.3,245.6 L688.9,245.4 L690.5,245.3 L692.1,245.1 L693.7,245.0 L695.3,244.8 L696.9,244.7 L698.5,244.5 L700.1,244.4 L701.7,244.2 L703.3,243.9 L704.9,243.7 L706.5,243.3 L708.1,243.0 L709.7,242.7 L711.3,242.3 L712.9,241.9 L714.5,241.6 L716.1,241.2 L717.7,240.9 L719.3,240.5 L720.9,240.2 L722.5,239.9 L724.1,239.6 L725.7,239.3 L727.3,239.1 L728.9,238.8 L730.5,238.6 L732.1,238.4 L733.7,238.2 L735.3,238.1 L736.9,237.9 L738.5,237.8 L740.1,237.7 L741.7,237.6 L743.3,237.5 L744.9,237.4 L746.5,237.3 L748.1,237.2 L749.7,237.2 L751.3,237.1 L752.9,237.0 L754.5,237.0 L756.1,236.9 L757.7,236.8 L759.3,236.7 L760.9,236.6 L762.5,236.5 L764.1,236.4 L765.7,236.2 L767.3,236.0 L768.9,235.8 L770.5,235.6 L772.1,235.5 L773.7,235.3 L775.3,235.2 L776.9,235.1 L778.5,235.1 L780.1,235.2 L781.7,235.4 L783.3,235.6 L784.9,235.8 L786.5,236.0 L788.1,236.2 L789.7,236.4 L791.3,236.6 L792.9,236.7 L794.5,236.8 L796.1,236.8 L797.7,236.9 L799.3,236.9 L800.9,236.8 L802.5,236.8 L804.1,236.7 L805.7,236.6 L807.3,236.5 L808.9,236.4 L810.5,236.3 L812.1,236.1 L813.7,236.0 L815.3,235.8 L816.9,235.6 L818.5,235.4 L820.1,235.2 L821.7,235.0 L823.3,234.8 L824.9,234.6 L826.5,234.4 L828.1,234.2 L829.7,234.0 L831.3,233.9 L832.9,233.7 L834.5,233.5 L836.1,233.4 L837.7,233.2 L839.3,233.1 L840.9,233.0 L842.5,232.9 L844.1,232.8 L845.7,232.8 L847.3,232.8 L848.9,232.8 L850.5,232.8 L852.1,232.8 L853.7,232.9 L855.3,233.0 L856.9,233.1 L858.5,233.2 L860.1,233.1 L861.7,232.9 L863.3,232.6 L864.9,232.3 L866.5,232.0 L868.1,231.7 L869.7,231.5 L871.3,231.3 L872.9,231.1 L874.5,231.0 L876.1,230.9 L877.7,230.8 L879.3,230.8 L880.9,230.7 L882.5,230.7 L884.1,230.7 L885.7,230.7 L887.3,230.7 L888.9,230.7 L890.5,230.6 L892.1,230.6 L893.7,230.6 L895.3,230.6 L896.9,230.6 L898.5,230.6 L900.1,230.6 L901.7,230.6 L903.3,230.6 L904.9,230.6 L906.5,230.6 L908.1,230.6 L909.7,230.5 L911.3,230.5 L912.9,230.5 L914.5,230.5 L916.1,230.5 L917.7,230.4 L919.3,230.4 L920.9,230.4 L922.5,230.4 L924.1,230.3 L925.7,230.3 L927.3,230.2 L928.9,230.2 L930.5,230.2 L932.1,230.1 L933.7,230.1 L935.3,230.0 L936.9,230.0 L938.5,229.9 L940.1,229.8 L941.7,229.8 L943.3,229.7 L944.9,229.7 L946.5,229.6 L948.1,229.6 L949.7,229.5 L951.3,229.4 L952.9,229.4 L954.5,229.3 L956.1,229.3 L957.7,229.2 L959.3,229.1 L960.9,229.1 L962.5,229.0 L964.1,229.0 L965.7,228.9 L967.3,228.8 L968.9,228.8 L970.5,228.7 L972.1,228.7 L973.7,228.6 L975.3,228.6 L976.9,228.6 L978.5,228.5 L980.1,228.5 L981.7,228.4 L983.3,228.4 L984.9,228.3 L986.5,228.2 L988.1,228.2 L989.7,228.1 L991.3,228.0 L992.9,227.9 L994.5,227.7 L996.1,227.5 L997.7,227.3 L999.3,226.9 L1000.9,226.5 L1002.5,226.0 L1004.1,225.5 L1005.7,224.9 L1007.3,224.4 L1008.9,224.0 L1010.5,223.6 L1012.1,223.4 L1013.7,223.3 L1015.3,223.2 L1016.9,223.1 L1018.5,223.1 L1020.1,223.2 L1021.7,223.3 L1023.3,223.3 L1024.9,223.4 L1026.5,223.4 L1028.1,223.5 L1029.7,223.5 L1031.3,223.4 L1032.9,223.4 L1034.5,223.3 L1036.1,223.2 L1037.7,223.1 L1039.3,222.9 L1040.9,222.8 L1042.5,222.7 L1044.1,222.6 L1045.7,222.4 L1047.3,222.3 L1048.9,222.2 L1050.5,222.1 L1052.1,222.0 L1053.7,221.9 L1055.3,221.9 L1056.9,221.8 L1058.5,221.7 L1060.1,221.7 L1061.7,221.6 L1063.3,221.6 L1064.9,221.6 L1066.5,221.6 L1068.1,221.5 L1069.7,221.5 L1071.3,221.5 L1072.9,221.5 L1074.5,221.6 L1076.1,221.6 L1077.7,221.6 L1079.3,221.6 L1080.9,221.7 L1082.5,221.7 L1084.1,221.8 L1085.7,221.8 L1087.3,221.9 L1088.9,221.9 L1090.5,222.0 L1092.1,222.1 L1093.7,222.1 L1095.3,222.2 L1096.9,222.3 L1098.5,222.3 L1100.1,222.4 L1101.7,222.5 L1103.3,222.6 L1104.9,222.6 L1106.5,222.7 L1108.1,222.8 L1109.7,222.8 L1111.3,222.9 L1112.9,222.9 L1114.5,223.0 L1116.1,223.0 L1117.7,223.1 L1119.3,223.1 L1120.9,223.1 L1122.5,223.1 L1124.1,223.1 L1125.7,223.2 L1127.3,223.1 L1128.9,223.1 L1130.5,223.1 L1132.1,223.1 L1133.7,223.0 L1135.3,223.0 L1136.9,222.9 L1138.5,222.9 L1140.1,222.8 L1141.7,222.7 L1143.3,222.6 L1144.9,222.4 L1146.5,222.3 L1148.1,222.1 L1149.5,222.0" fill="none" stroke="#0064dd" stroke-width="5.0" stroke-linejoin="round" stroke-linecap="butt"/><path d="M480.6,321.1 L481.9,320.1 L483.2,319.0 L484.5,317.9 L485.8,316.8 L487.1,315.7 L488.4,314.7 L489.7,313.6 L491.0,312.6 L492.3,311.5 L493.6,310.5 L494.9,309.5 L496.2,308.5 L497.5,307.5 L498.8,306.5 L500.1,305.5 L501.4,304.6 L502.7,303.6 L504.0,302.6 L505.3,301.7 L506.7,300.7 L508.1,299.7 L509.5,298.7 L510.9,297.8 L512.3,296.8 L513.7,295.9 L515.1,295.0 L516.5,294.0 L517.9,293.1 L519.3,292.3 L520.7,291.4 L522.1,290.5 L523.5,289.7 L524.9,288.9 L526.3,288.0 L527.7,287.3 L529.1,286.5 L530.6,285.6 L532.1,284.8 L533.6,284.1 L535.1,283.3 L536.6,282.5 L538.1,281.8 L539.6,281.1 L541.1,280.4 L542.6,279.7 L544.1,279.0 L545.6,278.4 L547.1,277.7 L548.6,277.1 L550.1,276.5 L551.6,275.9 L553.1,275.3 L554.6,274.7 L556.1,274.2 L557.7,273.6 L559.3,273.0 L560.9,272.4 L562.5,271.9 L564.1,271.4 L565.7,270.8 L567.3,270.3 L568.9,269.8 L570.5,269.3 L572.1,268.8 L573.7,268.4 L575.3,267.9 L576.9,267.4 L578.5,267.0 L580.1,266.5 L581.7,266.1 L583.3,265.7 L584.9,265.2 L586.5,264.8 L588.1,264.4 L589.7,264.0 L591.3,263.6 L592.9,263.2 L594.5,262.8 L596.1,262.4 L597.7,262.0 L599.3,261.7 L600.9,261.3 L602.5,260.9 L604.1,260.6 L605.7,260.3 L607.3,259.9 L608.9,259.6 L610.5,259.3 L612.1,259.0 L613.7,258.7 L615.3,258.4 L616.9,258.1 L618.5,257.9 L620.1,257.6 L621.7,257.4 L623.3,257.2 L624.9,256.9 L626.5,256.7 L628.1,256.5 L629.7,256.4 L631.3,256.2 L632.9,256.0 L634.5,255.9 L636.1,255.7 L637.7,255.6 L639.3,255.5 L640.9,255.3 L642.5,255.2 L644.1,255.0 L645.7,254.9 L647.3,254.8 L648.9,254.6 L650.5,254.5 L652.1,254.3 L653.7,254.1 L655.3,253.9 L656.9,253.7 L658.5,253.4 L660.1,253.1 L661.7,252.7 L663.3,252.3 L664.9,251.8 L666.5,251.3 L668.1,250.8 L669.7,250.2 L671.3,249.7 L672.9,249.2 L674.5,248.6 L676.1,248.1 L677.7,247.6 L679.3,247.2 L680.9,246.8 L682.5,246.4 L684.1,246.1 L685.7,245.8 L687.3,245.6 L688.9,245.4 L690.5,245.3 L692.1,245.1 L693.7,245.0 L695.3,244.8 L696.9,244.7 L698.5,244.5 L700.1,244.4 L701.7,244.2 L703.3,243.9 L704.9,243.7 L706.5,243.3 L708.1,243.0 L709.7,242.7 L711.3,242.3 L712.9,241.9 L714.5,241.6 L716.1,241.2 L717.7,240.9 L719.3,240.5 L720.9,240.2 L722.5,239.9 L724.1,239.6 L725.7,239.3 L727.3,239.1 L728.9,238.8 L730.5,238.6 L732.1,238.4 L733.7,238.2 L735.3,238.1 L736.9,237.9 L738.5,237.8 L740.1,237.7 L741.7,237.6 L743.3,237.5 L744.9,237.4 L746.5,237.3 L748.1,237.2 L749.7,237.2 L751.3,237.1 L752.9,237.0 L754.5,237.0 L756.1,236.9 L757.7,236.8 L759.3,236.7 L760.9,236.6 L762.5,236.5 L764.1,236.4 L765.7,236.2 L767.3,236.0 L768.9,235.8 L770.5,235.6 L772.1,235.5 L773.7,235.3 L775.3,235.2 L776.9,235.1 L778.5,235.1 L780.1,235.2 L781.7,235.4 L783.3,235.6 L784.9,235.8 L786.5,236.0 L788.1,236.2 L789.7,236.4 L791.3,236.6 L792.9,236.7 L794.5,236.8 L796.1,236.8 L797.7,236.9 L799.3,236.9 L800.9,236.8 L802.5,236.8 L804.1,236.7 L805.7,236.6 L807.3,236.5 L808.9,236.4 L810.5,236.3 L812.1,236.1 L813.7,236.0 L815.3,235.8 L816.9,235.6 L818.5,235.4 L820.1,235.2 L821.7,235.0 L823.3,234.8 L824.9,234.6 L826.5,234.4 L828.1,234.2 L829.7,234.0 L831.3,233.9 L832.9,233.7 L834.5,233.5 L836.1,233.4 L837.7,233.2 L839.3,233.1 L840.9,233.0 L842.5,232.9 L844.1,232.8 L845.7,232.8 L847.3,232.8 L848.9,232.8 L850.5,232.8 L852.1,232.8 L853.7,232.9 L855.3,233.0 L856.9,233.1 L858.5,233.2 L860.1,233.1 L861.7,232.9 L863.3,232.6 L864.9,232.3 L866.5,232.0 L868.1,231.7 L869.7,231.5 L871.3,231.3 L872.9,231.1 L874.5,231.0 L876.1,230.9 L877.7,230.8 L879.3,230.8 L880.9,230.7 L882.5,230.7 L884.1,230.7 L885.7,230.7 L887.3,230.7 L888.9,230.7 L890.5,230.6 L892.1,230.6 L893.7,230.6 L895.3,230.6 L896.9,230.6 L898.5,230.6 L900.1,230.6 L901.7,230.6 L903.3,230.6 L904.9,230.6 L906.5,230.6 L908.1,230.6 L909.7,230.5 L911.3,230.5 L912.9,230.5 L914.5,230.5 L916.1,230.5 L917.7,230.4 L919.3,230.4 L920.9,230.4 L922.5,230.4 L924.1,230.3 L925.7,230.3 L927.3,230.2 L928.9,230.2 L930.5,230.2 L932.1,230.1 L933.7,230.1 L935.3,230.0 L936.9,230.0 L938.5,229.9 L940.1,229.8 L941.7,229.8 L943.3,229.7 L944.9,229.7 L946.5,229.6 L948.1,229.6 L949.7,229.5 L951.3,229.4 L952.9,229.4 L954.5,229.3 L956.1,229.3 L957.7,229.2 L959.3,229.1 L960.9,229.1 L962.5,229.0 L964.1,229.0 L965.7,228.9 L967.3,228.8 L968.9,228.8 L970.5,228.7 L972.1,228.7 L973.7,228.6 L975.3,228.6 L976.9,228.6 L978.5,228.5 L980.1,228.5 L981.7,228.4 L983.3,228.4 L984.9,228.3 L986.5,228.2 L988.1,228.2 L989.7,228.1 L991.3,228.0 L992.9,227.9 L994.5,227.7 L996.1,227.5 L997.7,227.3 L999.3,226.9 L1000.9,226.5 L1002.5,226.0 L1004.1,225.5 L1005.7,224.9 L1007.3,224.4 L1008.9,224.0 L1010.5,223.6 L1012.1,223.4 L1013.7,223.3 L1015.3,223.2 L1016.9,223.1 L1018.5,223.1 L1020.1,223.2 L1021.7,223.3 L1023.3,223.3 L1024.9,223.4 L1026.5,223.4 L1028.1,223.5 L1029.7,223.5 L1031.3,223.4 L1032.9,223.4 L1034.5,223.3 L1036.1,223.2 L1037.7,223.1 L1039.3,222.9 L1040.9,222.8 L1042.5,222.7 L1044.1,222.6 L1045.7,222.4 L1047.3,222.3 L1048.9,222.2 L1050.5,222.1 L1052.1,222.0 L1053.7,221.9 L1055.3,221.9 L1056.9,221.8 L1058.5,221.7 L1060.1,221.7 L1061.7,221.6 L1063.3,221.6 L1064.9,221.6 L1066.5,221.6 L1068.1,221.5 L1069.7,221.5 L1071.3,221.5 L1072.9,221.5 L1074.5,221.6 L1076.1,221.6 L1077.7,221.6 L1079.3,221.6 L1080.9,221.7 L1082.5,221.7 L1084.1,221.8 L1085.7,221.8 L1087.3,221.9 L1088.9,221.9 L1090.5,222.0 L1092.1,222.1 L1093.7,222.1 L1095.3,222.2 L1096.9,222.3 L1098.5,222.3 L1100.1,222.4 L1101.7,222.5 L1103.3,222.6 L1104.9,222.6 L1106.5,222.7 L1108.1,222.8 L1109.7,222.8 L1111.3,222.9 L1112.9,222.9 L1114.5,223.0 L1116.1,223.0 L1117.7,223.1 L1119.3,223.1 L1120.9,223.1 L1122.5,223.1 L1124.1,223.1 L1125.7,223.2 L1127.3,223.1 L1128.9,223.1 L1130.5,223.1 L1132.1,223.1 L1133.7,223.0 L1135.3,223.0 L1136.9,222.9 L1138.5,222.9 L1140.1,222.8 L1141.7,222.7 L1143.3,222.6 L1144.9,222.4 L1146.5,222.3 L1148.1,222.1 L1149.5,222.0" fill="none" stroke="#0064dd" stroke-width="5.20" stroke-linejoin="round" stroke-linecap="butt"/><path d="M505.3,301.7 L506.7,300.7 L508.1,299.7 L509.5,298.7 L510.9,297.8 L512.3,296.8 L513.7,295.9 L515.1,295.0 L516.5,294.0 L517.9,293.1 L519.3,292.3 L520.7,291.4 L522.1,290.5 L523.5,289.7 L524.9,288.9 L526.3,288.0 L527.7,287.3 L529.1,286.5 L530.6,285.6 L532.1,284.8 L533.6,284.1 L535.1,283.3 L536.6,282.5 L538.1,281.8 L539.6,281.1 L541.1,280.4 L542.6,279.7 L544.1,279.0 L545.6,278.4 L547.1,277.7 L548.6,277.1 L550.1,276.5 L551.6,275.9 L553.1,275.3 L554.6,274.7 L556.1,274.2 L557.7,273.6 L559.3,273.0 L560.9,272.4 L562.5,271.9 L564.1,271.4 L565.7,270.8 L567.3,270.3 L568.9,269.8 L570.5,269.3 L572.1,268.8 L573.7,268.4 L575.3,267.9 L576.9,267.4 L578.5,267.0 L580.1,266.5 L581.7,266.1 L583.3,265.7 L584.9,265.2 L586.5,264.8 L588.1,264.4 L589.7,264.0 L591.3,263.6 L592.9,263.2 L594.5,262.8 L596.1,262.4 L597.7,262.0 L599.3,261.7 L600.9,261.3 L602.5,260.9 L604.1,260.6 L605.7,260.3 L607.3,259.9 L608.9,259.6 L610.5,259.3 L612.1,259.0 L613.7,258.7 L615.3,258.4 L616.9,258.1 L618.5,257.9 L620.1,257.6 L621.7,257.4 L623.3,257.2 L624.9,256.9 L626.5,256.7 L628.1,256.5 L629.7,256.4 L631.3,256.2 L632.9,256.0 L634.5,255.9 L636.1,255.7 L637.7,255.6 L639.3,255.5 L640.9,255.3 L642.5,255.2 L644.1,255.0 L645.7,254.9 L647.3,254.8 L648.9,254.6 L650.5,254.5 L652.1,254.3 L653.7,254.1 L655.3,253.9 L656.9,253.7 L658.5,253.4 L660.1,253.1 L661.7,252.7 L663.3,252.3 L664.9,251.8 L666.5,251.3 L668.1,250.8 L669.7,250.2 L671.3,249.7 L672.9,249.2 L674.5,248.6 L676.1,248.1 L677.7,247.6 L679.3,247.2 L680.9,246.8 L682.5,246.4 L684.1,246.1 L685.7,245.8 L687.3,245.6 L688.9,245.4 L690.5,245.3 L692.1,245.1 L693.7,245.0 L695.3,244.8 L696.9,244.7 L698.5,244.5 L700.1,244.4 L701.7,244.2 L703.3,243.9 L704.9,243.7 L706.5,243.3 L708.1,243.0 L709.7,242.7 L711.3,242.3 L712.9,241.9 L714.5,241.6 L716.1,241.2 L717.7,240.9 L719.3,240.5 L720.9,240.2 L722.5,239.9 L724.1,239.6 L725.7,239.3 L727.3,239.1 L728.9,238.8 L730.5,238.6 L732.1,238.4 L733.7,238.2 L735.3,238.1 L736.9,237.9 L738.5,237.8 L740.1,237.7 L741.7,237.6 L743.3,237.5 L744.9,237.4 L746.5,237.3 L748.1,237.2 L749.7,237.2 L751.3,237.1 L752.9,237.0 L754.5,237.0 L756.1,236.9 L757.7,236.8 L759.3,236.7 L760.9,236.6 L762.5,236.5 L764.1,236.4 L765.7,236.2 L767.3,236.0 L768.9,235.8 L770.5,235.6 L772.1,235.5 L773.7,235.3 L775.3,235.2 L776.9,235.1 L778.5,235.1 L780.1,235.2 L781.7,235.4 L783.3,235.6 L784.9,235.8 L786.5,236.0 L788.1,236.2 L789.7,236.4 L791.3,236.6 L792.9,236.7 L794.5,236.8 L796.1,236.8 L797.7,236.9 L799.3,236.9 L800.9,236.8 L802.5,236.8 L804.1,236.7 L805.7,236.6 L807.3,236.5 L808.9,236.4 L810.5,236.3 L812.1,236.1 L813.7,236.0 L815.3,235.8 L816.9,235.6 L818.5,235.4 L820.1,235.2 L821.7,235.0 L823.3,234.8 L824.9,234.6 L826.5,234.4 L828.1,234.2 L829.7,234.0 L831.3,233.9 L832.9,233.7 L834.5,233.5 L836.1,233.4 L837.7,233.2 L839.3,233.1 L840.9,233.0 L842.5,232.9 L844.1,232.8 L845.7,232.8 L847.3,232.8 L848.9,232.8 L850.5,232.8 L852.1,232.8 L853.7,232.9 L855.3,233.0 L856.9,233.1 L858.5,233.2 L860.1,233.1 L861.7,232.9 L863.3,232.6 L864.9,232.3 L866.5,232.0 L868.1,231.7 L869.7,231.5 L871.3,231.3 L872.9,231.1 L874.5,231.0 L876.1,230.9 L877.7,230.8 L879.3,230.8 L880.9,230.7 L882.5,230.7 L884.1,230.7 L885.7,230.7 L887.3,230.7 L888.9,230.7 L890.5,230.6 L892.1,230.6 L893.7,230.6 L895.3,230.6 L896.9,230.6 L898.5,230.6 L900.1,230.6 L901.7,230.6 L903.3,230.6 L904.9,230.6 L906.5,230.6 L908.1,230.6 L909.7,230.5 L911.3,230.5 L912.9,230.5 L914.5,230.5 L916.1,230.5 L917.7,230.4 L919.3,230.4 L920.9,230.4 L922.5,230.4 L924.1,230.3 L925.7,230.3 L927.3,230.2 L928.9,230.2 L930.5,230.2 L932.1,230.1 L933.7,230.1 L935.3,230.0 L936.9,230.0 L938.5,229.9 L940.1,229.8 L941.7,229.8 L943.3,229.7 L944.9,229.7 L946.5,229.6 L948.1,229.6 L949.7,229.5 L951.3,229.4 L952.9,229.4 L954.5,229.3 L956.1,229.3 L957.7,229.2 L959.3,229.1 L960.9,229.1 L962.5,229.0 L964.1,229.0 L965.7,228.9 L967.3,228.8 L968.9,228.8 L970.5,228.7 L972.1,228.7 L973.7,228.6 L975.3,228.6 L976.9,228.6 L978.5,228.5 L980.1,228.5 L981.7,228.4 L983.3,228.4 L984.9,228.3 L986.5,228.2 L988.1,228.2 L989.7,228.1 L991.3,228.0 L992.9,227.9 L994.5,227.7 L996.1,227.5 L997.7,227.3 L999.3,226.9 L1000.9,226.5 L1002.5,226.0 L1004.1,225.5 L1005.7,224.9 L1007.3,224.4 L1008.9,224.0 L1010.5,223.6 L1012.1,223.4 L1013.7,223.3 L1015.3,223.2 L1016.9,223.1 L1018.5,223.1 L1020.1,223.2 L1021.7,223.3 L1023.3,223.3 L1024.9,223.4 L1026.5,223.4 L1028.1,223.5 L1029.7,223.5 L1031.3,223.4 L1032.9,223.4 L1034.5,223.3 L1036.1,223.2 L1037.7,223.1 L1039.3,222.9 L1040.9,222.8 L1042.5,222.7 L1044.1,222.6 L1045.7,222.4 L1047.3,222.3 L1048.9,222.2 L1050.5,222.1 L1052.1,222.0 L1053.7,221.9 L1055.3,221.9 L1056.9,221.8 L1058.5,221.7 L1060.1,221.7 L1061.7,221.6 L1063.3,221.6 L1064.9,221.6 L1066.5,221.6 L1068.1,221.5 L1069.7,221.5 L1071.3,221.5 L1072.9,221.5 L1074.5,221.6 L1076.1,221.6 L1077.7,221.6 L1079.3,221.6 L1080.9,221.7 L1082.5,221.7 L1084.1,221.8 L1085.7,221.8 L1087.3,221.9 L1088.9,221.9 L1090.5,222.0 L1092.1,222.1 L1093.7,222.1 L1095.3,222.2 L1096.9,222.3 L1098.5,222.3 L1100.1,222.4 L1101.7,222.5 L1103.3,222.6 L1104.9,222.6 L1106.5,222.7 L1108.1,222.8 L1109.7,222.8 L1111.3,222.9 L1112.9,222.9 L1114.5,223.0 L1116.1,223.0 L1117.7,223.1 L1119.3,223.1 L1120.9,223.1 L1122.5,223.1 L1124.1,223.1 L1125.7,223.2 L1127.3,223.1 L1128.9,223.1 L1130.5,223.1 L1132.1,223.1 L1133.7,223.0 L1135.3,223.0 L1136.9,222.9 L1138.5,222.9 L1140.1,222.8 L1141.7,222.7 L1143.3,222.6 L1144.9,222.4 L1146.5,222.3 L1148.1,222.1 L1149.5,222.0" fill="none" stroke="#0064dd" stroke-width="5.40" stroke-linejoin="round" stroke-linecap="butt"/><path d="M530.6,285.6 L532.1,284.8 L533.6,284.1 L535.1,283.3 L536.6,282.5 L538.1,281.8 L539.6,281.1 L541.1,280.4 L542.6,279.7 L544.1,279.0 L545.6,278.4 L547.1,277.7 L548.6,277.1 L550.1,276.5 L551.6,275.9 L553.1,275.3 L554.6,274.7 L556.1,274.2 L557.7,273.6 L559.3,273.0 L560.9,272.4 L562.5,271.9 L564.1,271.4 L565.7,270.8 L567.3,270.3 L568.9,269.8 L570.5,269.3 L572.1,268.8 L573.7,268.4 L575.3,267.9 L576.9,267.4 L578.5,267.0 L580.1,266.5 L581.7,266.1 L583.3,265.7 L584.9,265.2 L586.5,264.8 L588.1,264.4 L589.7,264.0 L591.3,263.6 L592.9,263.2 L594.5,262.8 L596.1,262.4 L597.7,262.0 L599.3,261.7 L600.9,261.3 L602.5,260.9 L604.1,260.6 L605.7,260.3 L607.3,259.9 L608.9,259.6 L610.5,259.3 L612.1,259.0 L613.7,258.7 L615.3,258.4 L616.9,258.1 L618.5,257.9 L620.1,257.6 L621.7,257.4 L623.3,257.2 L624.9,256.9 L626.5,256.7 L628.1,256.5 L629.7,256.4 L631.3,256.2 L632.9,256.0 L634.5,255.9 L636.1,255.7 L637.7,255.6 L639.3,255.5 L640.9,255.3 L642.5,255.2 L644.1,255.0 L645.7,254.9 L647.3,254.8 L648.9,254.6 L650.5,254.5 L652.1,254.3 L653.7,254.1 L655.3,253.9 L656.9,253.7 L658.5,253.4 L660.1,253.1 L661.7,252.7 L663.3,252.3 L664.9,251.8 L666.5,251.3 L668.1,250.8 L669.7,250.2 L671.3,249.7 L672.9,249.2 L674.5,248.6 L676.1,248.1 L677.7,247.6 L679.3,247.2 L680.9,246.8 L682.5,246.4 L684.1,246.1 L685.7,245.8 L687.3,245.6 L688.9,245.4 L690.5,245.3 L692.1,245.1 L693.7,245.0 L695.3,244.8 L696.9,244.7 L698.5,244.5 L700.1,244.4 L701.7,244.2 L703.3,243.9 L704.9,243.7 L706.5,243.3 L708.1,243.0 L709.7,242.7 L711.3,242.3 L712.9,241.9 L714.5,241.6 L716.1,241.2 L717.7,240.9 L719.3,240.5 L720.9,240.2 L722.5,239.9 L724.1,239.6 L725.7,239.3 L727.3,239.1 L728.9,238.8 L730.5,238.6 L732.1,238.4 L733.7,238.2 L735.3,238.1 L736.9,237.9 L738.5,237.8 L740.1,237.7 L741.7,237.6 L743.3,237.5 L744.9,237.4 L746.5,237.3 L748.1,237.2 L749.7,237.2 L751.3,237.1 L752.9,237.0 L754.5,237.0 L756.1,236.9 L757.7,236.8 L759.3,236.7 L760.9,236.6 L762.5,236.5 L764.1,236.4 L765.7,236.2 L767.3,236.0 L768.9,235.8 L770.5,235.6 L772.1,235.5 L773.7,235.3 L775.3,235.2 L776.9,235.1 L778.5,235.1 L780.1,235.2 L781.7,235.4 L783.3,235.6 L784.9,235.8 L786.5,236.0 L788.1,236.2 L789.7,236.4 L791.3,236.6 L792.9,236.7 L794.5,236.8 L796.1,236.8 L797.7,236.9 L799.3,236.9 L800.9,236.8 L802.5,236.8 L804.1,236.7 L805.7,236.6 L807.3,236.5 L808.9,236.4 L810.5,236.3 L812.1,236.1 L813.7,236.0 L815.3,235.8 L816.9,235.6 L818.5,235.4 L820.1,235.2 L821.7,235.0 L823.3,234.8 L824.9,234.6 L826.5,234.4 L828.1,234.2 L829.7,234.0 L831.3,233.9 L832.9,233.7 L834.5,233.5 L836.1,233.4 L837.7,233.2 L839.3,233.1 L840.9,233.0 L842.5,232.9 L844.1,232.8 L845.7,232.8 L847.3,232.8 L848.9,232.8 L850.5,232.8 L852.1,232.8 L853.7,232.9 L855.3,233.0 L856.9,233.1 L858.5,233.2 L860.1,233.1 L861.7,232.9 L863.3,232.6 L864.9,232.3 L866.5,232.0 L868.1,231.7 L869.7,231.5 L871.3,231.3 L872.9,231.1 L874.5,231.0 L876.1,230.9 L877.7,230.8 L879.3,230.8 L880.9,230.7 L882.5,230.7 L884.1,230.7 L885.7,230.7 L887.3,230.7 L888.9,230.7 L890.5,230.6 L892.1,230.6 L893.7,230.6 L895.3,230.6 L896.9,230.6 L898.5,230.6 L900.1,230.6 L901.7,230.6 L903.3,230.6 L904.9,230.6 L906.5,230.6 L908.1,230.6 L909.7,230.5 L911.3,230.5 L912.9,230.5 L914.5,230.5 L916.1,230.5 L917.7,230.4 L919.3,230.4 L920.9,230.4 L922.5,230.4 L924.1,230.3 L925.7,230.3 L927.3,230.2 L928.9,230.2 L930.5,230.2 L932.1,230.1 L933.7,230.1 L935.3,230.0 L936.9,230.0 L938.5,229.9 L940.1,229.8 L941.7,229.8 L943.3,229.7 L944.9,229.7 L946.5,229.6 L948.1,229.6 L949.7,229.5 L951.3,229.4 L952.9,229.4 L954.5,229.3 L956.1,229.3 L957.7,229.2 L959.3,229.1 L960.9,229.1 L962.5,229.0 L964.1,229.0 L965.7,228.9 L967.3,228.8 L968.9,228.8 L970.5,228.7 L972.1,228.7 L973.7,228.6 L975.3,228.6 L976.9,228.6 L978.5,228.5 L980.1,228.5 L981.7,228.4 L983.3,228.4 L984.9,228.3 L986.5,228.2 L988.1,228.2 L989.7,228.1 L991.3,228.0 L992.9,227.9 L994.5,227.7 L996.1,227.5 L997.7,227.3 L999.3,226.9 L1000.9,226.5 L1002.5,226.0 L1004.1,225.5 L1005.7,224.9 L1007.3,224.4 L1008.9,224.0 L1010.5,223.6 L1012.1,223.4 L1013.7,223.3 L1015.3,223.2 L1016.9,223.1 L1018.5,223.1 L1020.1,223.2 L1021.7,223.3 L1023.3,223.3 L1024.9,223.4 L1026.5,223.4 L1028.1,223.5 L1029.7,223.5 L1031.3,223.4 L1032.9,223.4 L1034.5,223.3 L1036.1,223.2 L1037.7,223.1 L1039.3,222.9 L1040.9,222.8 L1042.5,222.7 L1044.1,222.6 L1045.7,222.4 L1047.3,222.3 L1048.9,222.2 L1050.5,222.1 L1052.1,222.0 L1053.7,221.9 L1055.3,221.9 L1056.9,221.8 L1058.5,221.7 L1060.1,221.7 L1061.7,221.6 L1063.3,221.6 L1064.9,221.6 L1066.5,221.6 L1068.1,221.5 L1069.7,221.5 L1071.3,221.5 L1072.9,221.5 L1074.5,221.6 L1076.1,221.6 L1077.7,221.6 L1079.3,221.6 L1080.9,221.7 L1082.5,221.7 L1084.1,221.8 L1085.7,221.8 L1087.3,221.9 L1088.9,221.9 L1090.5,222.0 L1092.1,222.1 L1093.7,222.1 L1095.3,222.2 L1096.9,222.3 L1098.5,222.3 L1100.1,222.4 L1101.7,222.5 L1103.3,222.6 L1104.9,222.6 L1106.5,222.7 L1108.1,222.8 L1109.7,222.8 L1111.3,222.9 L1112.9,222.9 L1114.5,223.0 L1116.1,223.0 L1117.7,223.1 L1119.3,223.1 L1120.9,223.1 L1122.5,223.1 L1124.1,223.1 L1125.7,223.2 L1127.3,223.1 L1128.9,223.1 L1130.5,223.1 L1132.1,223.1 L1133.7,223.0 L1135.3,223.0 L1136.9,222.9 L1138.5,222.9 L1140.1,222.8 L1141.7,222.7 L1143.3,222.6 L1144.9,222.4 L1146.5,222.3 L1148.1,222.1 L1149.5,222.0" fill="none" stroke="#0064dd" stroke-width="5.60" stroke-linejoin="round" stroke-linecap="butt"/><path d="M556.1,274.2 L557.7,273.6 L559.3,273.0 L560.9,272.4 L562.5,271.9 L564.1,271.4 L565.7,270.8 L567.3,270.3 L568.9,269.8 L570.5,269.3 L572.1,268.8 L573.7,268.4 L575.3,267.9 L576.9,267.4 L578.5,267.0 L580.1,266.5 L581.7,266.1 L583.3,265.7 L584.9,265.2 L586.5,264.8 L588.1,264.4 L589.7,264.0 L591.3,263.6 L592.9,263.2 L594.5,262.8 L596.1,262.4 L597.7,262.0 L599.3,261.7 L600.9,261.3 L602.5,260.9 L604.1,260.6 L605.7,260.3 L607.3,259.9 L608.9,259.6 L610.5,259.3 L612.1,259.0 L613.7,258.7 L615.3,258.4 L616.9,258.1 L618.5,257.9 L620.1,257.6 L621.7,257.4 L623.3,257.2 L624.9,256.9 L626.5,256.7 L628.1,256.5 L629.7,256.4 L631.3,256.2 L632.9,256.0 L634.5,255.9 L636.1,255.7 L637.7,255.6 L639.3,255.5 L640.9,255.3 L642.5,255.2 L644.1,255.0 L645.7,254.9 L647.3,254.8 L648.9,254.6 L650.5,254.5 L652.1,254.3 L653.7,254.1 L655.3,253.9 L656.9,253.7 L658.5,253.4 L660.1,253.1 L661.7,252.7 L663.3,252.3 L664.9,251.8 L666.5,251.3 L668.1,250.8 L669.7,250.2 L671.3,249.7 L672.9,249.2 L674.5,248.6 L676.1,248.1 L677.7,247.6 L679.3,247.2 L680.9,246.8 L682.5,246.4 L684.1,246.1 L685.7,245.8 L687.3,245.6 L688.9,245.4 L690.5,245.3 L692.1,245.1 L693.7,245.0 L695.3,244.8 L696.9,244.7 L698.5,244.5 L700.1,244.4 L701.7,244.2 L703.3,243.9 L704.9,243.7 L706.5,243.3 L708.1,243.0 L709.7,242.7 L711.3,242.3 L712.9,241.9 L714.5,241.6 L716.1,241.2 L717.7,240.9 L719.3,240.5 L720.9,240.2 L722.5,239.9 L724.1,239.6 L725.7,239.3 L727.3,239.1 L728.9,238.8 L730.5,238.6 L732.1,238.4 L733.7,238.2 L735.3,238.1 L736.9,237.9 L738.5,237.8 L740.1,237.7 L741.7,237.6 L743.3,237.5 L744.9,237.4 L746.5,237.3 L748.1,237.2 L749.7,237.2 L751.3,237.1 L752.9,237.0 L754.5,237.0 L756.1,236.9 L757.7,236.8 L759.3,236.7 L760.9,236.6 L762.5,236.5 L764.1,236.4 L765.7,236.2 L767.3,236.0 L768.9,235.8 L770.5,235.6 L772.1,235.5 L773.7,235.3 L775.3,235.2 L776.9,235.1 L778.5,235.1 L780.1,235.2 L781.7,235.4 L783.3,235.6 L784.9,235.8 L786.5,236.0 L788.1,236.2 L789.7,236.4 L791.3,236.6 L792.9,236.7 L794.5,236.8 L796.1,236.8 L797.7,236.9 L799.3,236.9 L800.9,236.8 L802.5,236.8 L804.1,236.7 L805.7,236.6 L807.3,236.5 L808.9,236.4 L810.5,236.3 L812.1,236.1 L813.7,236.0 L815.3,235.8 L816.9,235.6 L818.5,235.4 L820.1,235.2 L821.7,235.0 L823.3,234.8 L824.9,234.6 L826.5,234.4 L828.1,234.2 L829.7,234.0 L831.3,233.9 L832.9,233.7 L834.5,233.5 L836.1,233.4 L837.7,233.2 L839.3,233.1 L840.9,233.0 L842.5,232.9 L844.1,232.8 L845.7,232.8 L847.3,232.8 L848.9,232.8 L850.5,232.8 L852.1,232.8 L853.7,232.9 L855.3,233.0 L856.9,233.1 L858.5,233.2 L860.1,233.1 L861.7,232.9 L863.3,232.6 L864.9,232.3 L866.5,232.0 L868.1,231.7 L869.7,231.5 L871.3,231.3 L872.9,231.1 L874.5,231.0 L876.1,230.9 L877.7,230.8 L879.3,230.8 L880.9,230.7 L882.5,230.7 L884.1,230.7 L885.7,230.7 L887.3,230.7 L888.9,230.7 L890.5,230.6 L892.1,230.6 L893.7,230.6 L895.3,230.6 L896.9,230.6 L898.5,230.6 L900.1,230.6 L901.7,230.6 L903.3,230.6 L904.9,230.6 L906.5,230.6 L908.1,230.6 L909.7,230.5 L911.3,230.5 L912.9,230.5 L914.5,230.5 L916.1,230.5 L917.7,230.4 L919.3,230.4 L920.9,230.4 L922.5,230.4 L924.1,230.3 L925.7,230.3 L927.3,230.2 L928.9,230.2 L930.5,230.2 L932.1,230.1 L933.7,230.1 L935.3,230.0 L936.9,230.0 L938.5,229.9 L940.1,229.8 L941.7,229.8 L943.3,229.7 L944.9,229.7 L946.5,229.6 L948.1,229.6 L949.7,229.5 L951.3,229.4 L952.9,229.4 L954.5,229.3 L956.1,229.3 L957.7,229.2 L959.3,229.1 L960.9,229.1 L962.5,229.0 L964.1,229.0 L965.7,228.9 L967.3,228.8 L968.9,228.8 L970.5,228.7 L972.1,228.7 L973.7,228.6 L975.3,228.6 L976.9,228.6 L978.5,228.5 L980.1,228.5 L981.7,228.4 L983.3,228.4 L984.9,228.3 L986.5,228.2 L988.1,228.2 L989.7,228.1 L991.3,228.0 L992.9,227.9 L994.5,227.7 L996.1,227.5 L997.7,227.3 L999.3,226.9 L1000.9,226.5 L1002.5,226.0 L1004.1,225.5 L1005.7,224.9 L1007.3,224.4 L1008.9,224.0 L1010.5,223.6 L1012.1,223.4 L1013.7,223.3 L1015.3,223.2 L1016.9,223.1 L1018.5,223.1 L1020.1,223.2 L1021.7,223.3 L1023.3,223.3 L1024.9,223.4 L1026.5,223.4 L1028.1,223.5 L1029.7,223.5 L1031.3,223.4 L1032.9,223.4 L1034.5,223.3 L1036.1,223.2 L1037.7,223.1 L1039.3,222.9 L1040.9,222.8 L1042.5,222.7 L1044.1,222.6 L1045.7,222.4 L1047.3,222.3 L1048.9,222.2 L1050.5,222.1 L1052.1,222.0 L1053.7,221.9 L1055.3,221.9 L1056.9,221.8 L1058.5,221.7 L1060.1,221.7 L1061.7,221.6 L1063.3,221.6 L1064.9,221.6 L1066.5,221.6 L1068.1,221.5 L1069.7,221.5 L1071.3,221.5 L1072.9,221.5 L1074.5,221.6 L1076.1,221.6 L1077.7,221.6 L1079.3,221.6 L1080.9,221.7 L1082.5,221.7 L1084.1,221.8 L1085.7,221.8 L1087.3,221.9 L1088.9,221.9 L1090.5,222.0 L1092.1,222.1 L1093.7,222.1 L1095.3,222.2 L1096.9,222.3 L1098.5,222.3 L1100.1,222.4 L1101.7,222.5 L1103.3,222.6 L1104.9,222.6 L1106.5,222.7 L1108.1,222.8 L1109.7,222.8 L1111.3,222.9 L1112.9,222.9 L1114.5,223.0 L1116.1,223.0 L1117.7,223.1 L1119.3,223.1 L1120.9,223.1 L1122.5,223.1 L1124.1,223.1 L1125.7,223.2 L1127.3,223.1 L1128.9,223.1 L1130.5,223.1 L1132.1,223.1 L1133.7,223.0 L1135.3,223.0 L1136.9,222.9 L1138.5,222.9 L1140.1,222.8 L1141.7,222.7 L1143.3,222.6 L1144.9,222.4 L1146.5,222.3 L1148.1,222.1 L1149.5,222.0" fill="none" stroke="#0064dd" stroke-width="5.80" stroke-linejoin="round" stroke-linecap="butt"/>
<path d="M216.0,946.6 L216.9,948.0 L218.4,948.6 L219.7,947.6 L220.6,946.0 L221.3,944.4 L221.9,942.7 L222.4,941.1 L222.9,939.4 L223.4,937.4 L223.8,935.8 L224.2,934.1 L224.6,932.2 L225.0,930.3 L225.4,928.3 L225.8,926.2 L226.1,924.6 L226.4,923.0 L226.7,921.3 L227.0,919.6 L227.3,917.8 L227.6,916.0 L227.9,914.1 L228.2,912.2 L228.5,910.3 L228.8,908.4 L229.1,906.4 L229.4,904.4 L229.7,902.3 L230.0,900.2 L230.3,898.1 L230.6,895.9 L230.9,893.8 L231.2,891.6 L231.5,889.3 L231.8,887.1 L232.1,884.8 L232.4,882.4 L232.7,880.1 L233.0,877.7 L233.2,876.1 L233.4,874.5 L233.6,872.9 L233.8,871.3 L234.0,869.7 L234.2,868.1 L234.4,866.4 L234.6,864.7 L234.8,863.1 L235.0,861.4 L235.2,859.7 L235.4,858.0 L235.6,856.3 L235.8,854.6 L236.0,852.9 L236.2,851.2 L236.4,849.5 L236.6,847.8 L236.8,846.0 L237.0,844.3 L237.2,842.5 L237.4,840.8 L237.6,839.0 L237.8,837.3 L238.0,835.5 L238.2,833.7 L238.4,832.0 L238.6,830.2 L238.8,828.4 L239.0,826.6 L239.2,824.8 L239.4,823.0 L239.6,821.2 L239.8,819.4 L240.0,817.6 L240.2,815.8 L240.4,814.0 L240.6,812.2 L240.8,810.3 L241.0,808.5 L241.2,806.7 L241.4,804.8 L241.6,803.0 L241.8,801.1 L242.0,799.3 L242.2,797.4 L242.4,795.6 L242.6,793.7 L242.8,791.8 L243.0,789.9 L243.2,788.0 L243.4,786.2 L243.6,784.3 L243.8,782.4 L244.0,780.4 L244.2,778.5 L244.4,776.6 L244.6,774.7 L244.8,772.8 L245.0,770.8 L245.2,768.9 L245.4,766.9 L245.6,765.0 L245.8,763.0 L246.0,761.1 L246.2,759.1 L246.4,757.1 L246.6,755.2 L246.8,753.2 L247.0,751.2 L247.2,749.2 L247.4,747.2 L247.6,745.2 L247.8,743.1 L248.0,741.1 L248.2,739.1 L248.4,737.0 L248.6,735.0 L248.8,733.0 L249.0,730.9 L249.2,728.8 L249.4,726.8 L249.6,724.7 L249.8,722.6 L250.0,720.5 L250.2,718.4 L250.4,716.3 L250.6,714.2 L250.8,712.1 L251.0,709.9 L251.2,707.8 L251.4,705.7 L251.6,703.5 L251.8,701.4 L252.0,699.2 L252.2,697.0 L252.4,694.9 L252.6,692.7 L252.8,690.5 L253.0,688.3 L253.2,686.1 L253.4,683.9 L253.6,681.6 L253.8,679.4 L254.0,677.2 L254.2,674.9 L254.4,672.7 L254.6,670.4 L254.8,668.1 L255.0,665.8 L255.2,663.6 L255.4,661.3 L255.6,659.0 L255.8,656.6 L256.0,654.3 L256.2,652.0 L256.4,649.7 L256.6,647.3 L256.8,645.0 L257.0,642.6 L257.2,640.3 L257.4,637.9 L257.6,635.5 L257.8,633.1 L258.0,630.7 L258.2,628.3 L258.4,626.0 L258.6,623.6 L258.8,621.1 L259.0,618.7 L259.2,616.3 L259.4,613.9 L259.6,611.5 L259.8,609.1 L260.0,606.6 L260.2,604.2 L260.4,601.8 L260.6,599.3 L260.8,596.9 L261.0,594.5 L261.2,592.0 L261.4,589.6 L261.6,587.1 L261.8,584.7 L262.0,582.2 L262.2,579.8 L262.4,577.3 L262.6,574.9 L262.8,572.5 L263.0,570.0 L263.2,567.6 L263.4,565.1 L263.6,562.7 L263.8,560.2 L264.0,557.8 L264.2,555.4 L264.4,552.9 L264.6,550.5 L264.8,548.1 L265.0,545.7 L265.2,543.2 L265.4,540.8 L265.6,538.4 L265.8,536.0 L266.0,533.6 L266.2,531.2 L266.4,528.8 L266.6,526.4 L266.8,524.0 L267.0,521.6 L267.2,519.3 L267.4,516.9 L267.6,514.5 L267.8,512.2 L268.0,509.8 L268.2,507.5 L268.4,505.1 L268.6,502.8 L268.8,500.5 L269.0,498.2 L269.2,495.9 L269.4,493.6 L269.6,491.3 L269.8,489.0 L270.0,486.7 L270.2,484.5 L270.4,482.2 L270.6,480.0 L270.8,477.8 L271.0,475.5 L271.2,473.3 L271.4,471.1 L271.6,468.9 L271.8,466.8 L272.0,464.6 L272.2,462.4 L272.4,460.3 L272.6,458.1 L272.8,456.0 L273.0,453.9 L273.2,451.8 L273.4,449.7 L273.6,447.7 L273.8,445.6 L274.0,443.5 L274.2,441.5 L274.4,439.5 L274.6,437.5 L274.8,435.5 L275.0,433.5 L275.2,431.5 L275.4,429.6 L275.6,427.6 L275.8,425.7 L276.0,423.8 L276.2,421.9 L276.4,420.0 L276.6,418.1 L276.8,416.3 L277.0,414.4 L277.2,412.6 L277.4,410.8 L277.6,409.0 L277.8,407.2 L278.0,405.4 L278.2,403.7 L278.4,402.0 L278.6,400.2 L278.8,398.5 L279.0,396.9 L279.2,395.2 L279.4,393.5 L279.6,391.9 L279.8,390.3 L280.0,388.7 L280.3,386.3 L280.6,384.0 L280.9,381.7 L281.2,379.5 L281.5,377.3 L281.8,375.2 L282.1,373.0 L282.4,371.0 L282.7,369.0 L283.0,367.0 L283.3,365.0 L283.6,363.2 L283.9,361.3 L284.2,359.5 L284.5,357.8 L284.8,356.1 L285.1,354.4 L285.4,352.8 L285.7,351.2 L286.1,349.2 L286.5,347.2 L286.9,345.3 L287.3,343.5 L287.7,341.8 L288.1,340.1 L288.5,338.5 L288.9,336.9 L289.4,335.0 L289.9,333.2 L290.4,331.5 L290.9,329.9 L291.4,328.3 L292.0,326.6 L292.6,324.9 L293.2,323.3 L293.8,321.8 L294.5,320.2 L295.2,318.7 L295.9,317.2 L296.7,315.6 L297.5,314.1 L298.3,312.7 L299.2,311.2 L300.1,309.7 L301.0,308.2 L301.9,306.8 L302.8,305.4 L303.7,304.1 L304.7,302.6 L305.7,301.2 L306.7,299.8 L307.7,298.5 L308.7,297.2 L309.7,295.9 L310.7,294.6 L311.8,293.3 L312.9,291.9 L314.0,290.6 L315.1,289.2 L316.2,287.9 L317.3,286.6 L318.4,285.3 L319.5,284.0 L320.6,282.6 L321.7,281.3 L322.8,279.9 L323.8,278.6 L324.8,277.3 L325.8,276.0 L326.8,274.7 L327.8,273.3 L328.8,272.0 L329.8,270.6 L330.8,269.2 L331.8,267.8 L332.8,266.4 L333.8,265.0 L334.8,263.6 L335.8,262.2 L336.8,260.9 L337.8,259.5 L338.8,258.2 L339.8,257.0 L340.9,255.6 L342.0,254.3 L343.1,253.0 L344.2,251.8 L345.4,250.5 L346.6,249.4 L347.8,248.3 L349.1,247.3 L350.5,246.3 L351.9,245.4 L353.4,244.7 L354.9,244.0 L356.4,243.4 L357.9,242.8 L359.4,242.1 L360.9,241.3 L362.3,240.3 L363.6,239.3 L364.8,238.2 L366.0,237.0 L367.2,235.8 L368.3,234.6 L369.4,233.4 L370.5,232.2 L371.6,230.9 L372.7,229.7 L373.8,228.5 L374.9,227.4 L376.1,226.1 L377.3,224.9 L378.5,223.6 L379.7,222.5 L380.9,221.3 L382.1,220.2 L383.4,219.1 L384.7,218.0 L386.0,217.0 L387.3,216.1 L388.7,215.1 L390.1,214.2 L391.5,213.4 L393.0,212.6 L394.5,211.8 L396.0,211.1 L397.5,210.5 L399.0,209.8 L400.5,209.2 L402.0,208.6 L403.5,208.1 L405.0,207.5 L406.5,206.9 L408.0,206.3 L409.5,205.7 L411.0,205.1 L412.5,204.5 L414.0,203.8 L415.5,203.1 L417.0,202.4 L418.5,201.7 L420.0,200.9 L421.5,200.2 L423.0,199.4 L424.5,198.6 L426.0,197.8 L427.5,197.1 L429.0,196.3 L430.5,195.5 L432.0,194.8 L433.5,194.0 L435.0,193.2 L436.5,192.5 L438.0,191.8 L439.5,191.0 L441.0,190.3 L442.5,189.5 L444.0,188.7 L445.4,187.9 L446.8,187.1 L448.2,186.2 L449.6,185.3 L451.0,184.4 L452.4,183.4 L453.8,182.5 L455.2,181.6 L456.7,180.9 L458.3,180.3 L459.9,180.0 L461.5,179.9 L463.1,179.8 L464.7,179.7 L466.3,179.5 L467.9,179.1 L469.4,178.5 L470.9,177.8 L472.4,177.0 L473.8,176.3 L475.2,175.5 L476.6,174.7 L478.1,173.8 L479.6,173.1 L481.1,172.5 L482.7,172.0 L484.3,171.7 L485.9,171.4 L487.5,171.3 L489.1,171.1 L490.7,170.9 L492.3,170.6 L493.9,170.3 L495.5,169.8 L497.1,169.4 L498.7,168.9 L500.3,168.4 L501.9,168.0 L503.5,167.6 L505.1,167.2 L506.7,166.9 L508.3,166.7 L509.9,166.6 L511.5,166.5 L513.1,166.4 L514.7,166.3 L516.3,166.2 L517.9,166.0 L519.5,165.7 L521.1,165.3 L522.7,164.7 L524.2,164.2 L525.7,163.5 L527.2,162.8 L528.7,162.1 L530.2,161.3 L531.7,160.5 L533.2,159.7 L534.7,158.9 L536.2,158.1 L537.7,157.4 L539.2,156.7 L540.7,156.0 L542.2,155.4 L543.8,154.9 L545.4,154.4 L547.0,154.0 L548.6,153.7 L550.2,153.4 L551.8,153.1 L553.4,152.9 L555.0,152.7 L556.6,152.5 L558.2,152.4 L559.8,152.2 L561.4,152.1 L563.0,152.0 L564.6,152.0 L566.2,151.9 L567.8,151.8 L569.4,151.8 L571.0,151.8 L572.6,151.8 L574.2,151.8 L575.8,151.8 L577.4,151.8 L579.0,151.9 L580.6,151.9 L582.2,151.9 L583.8,151.9 L585.4,151.8 L587.0,151.8 L588.6,151.7 L590.2,151.5 L591.8,151.3 L593.4,151.0 L595.0,150.7 L596.6,150.4 L598.2,150.0 L599.8,149.6 L601.4,149.2 L603.0,148.9 L604.6,148.5 L606.2,148.2 L607.8,148.0 L609.4,147.8 L611.0,147.7 L612.6,147.6 L614.2,147.7 L615.8,147.9 L617.4,148.2 L619.0,148.6 L620.6,149.2 L622.1,149.8 L623.6,150.5 L625.1,151.1 L626.6,151.7 L628.2,152.2 L629.8,152.6 L631.4,152.8 L633.0,152.8 L634.6,152.8 L636.2,152.7 L637.8,152.5 L639.4,152.4 L641.0,152.3 L642.6,152.2 L644.2,152.2 L645.8,152.2 L647.4,152.2 L649.0,152.2 L650.6,152.3 L652.2,152.3 L653.8,152.3 L655.4,152.4 L657.0,152.3 L658.6,152.3 L660.2,152.2 L661.8,152.1 L663.4,152.0 L665.0,151.7 L666.6,151.4 L668.2,151.1 L669.8,150.6 L671.4,150.1 L672.9,149.6 L674.4,148.9 L675.9,148.2 L677.4,147.5 L678.9,146.9 L680.4,146.2 L681.9,145.6 L683.5,145.0 L685.1,144.5 L686.7,144.2 L688.3,144.0 L689.9,143.9 L691.5,143.9 L693.1,143.9 L694.7,144.0 L696.3,144.1 L697.9,144.2 L699.5,144.3 L701.1,144.4 L702.7,144.4 L704.3,144.4 L705.9,144.3 L707.5,144.2 L709.1,144.0 L710.7,143.7 L712.3,143.4 L713.9,143.1 L715.5,142.7 L717.1,142.2 L718.7,141.8 L720.3,141.3 L721.9,140.8 L723.5,140.2 L725.1,139.7 L726.7,139.2 L728.3,138.7 L729.9,138.2 L731.5,137.8 L733.1,137.4 L734.7,137.0 L736.3,136.6 L737.9,136.3 L739.5,136.0 L741.1,135.8 L742.7,135.6 L744.3,135.5 L745.9,135.5 L747.5,135.5 L749.1,135.6 L750.7,135.8 L752.3,136.1 L753.9,136.5 L755.5,137.0 L757.1,137.6 L758.6,138.3 L760.1,138.9 L761.6,139.6 L763.1,140.2 L764.7,140.7 L766.3,141.0 L767.9,141.1 L769.5,141.0 L771.1,140.8 L772.7,140.6 L774.3,140.3 L775.9,140.1 L777.5,139.9 L779.1,139.9 L780.7,139.9 L782.3,140.1 L783.9,140.4 L785.5,140.8 L787.1,141.2 L788.7,141.7 L790.3,142.3 L791.9,142.8 L793.5,143.4 L795.1,144.0 L796.7,144.5 L798.3,145.0 L799.9,145.5 L801.5,145.9 L803.1,146.2 L804.7,146.4 L806.3,146.5 L807.9,146.5 L809.5,146.4 L811.1,146.3 L812.7,146.0 L814.3,145.8 L815.9,145.4 L817.5,145.1 L819.1,144.7 L820.7,144.3 L822.3,143.9 L823.9,143.5 L825.5,143.1 L827.1,142.8 L828.7,142.5 L830.3,142.2 L831.9,142.1 L833.5,142.0 L835.1,142.1 L836.7,142.2 L838.3,142.4 L839.9,142.7 L841.5,142.9 L843.1,143.1 L844.7,143.3 L846.3,143.4 L847.9,143.4 L849.5,143.3 L851.1,143.0 L852.7,142.7 L854.3,142.2 L855.9,141.6 L857.4,141.1 L858.9,140.5 L860.4,139.8 L861.9,139.2 L863.4,138.7 L865.0,138.1 L866.6,137.7 L868.2,137.4 L869.8,137.3 L871.4,137.5 L873.0,137.8 L874.6,138.2 L876.2,138.8 L877.8,139.3 L879.4,139.7 L881.0,139.9 L882.6,139.9 L884.2,139.7 L885.8,139.4 L887.4,139.0 L889.0,138.6 L890.6,138.3 L892.2,138.1 L893.8,138.1 L895.4,138.3 L897.0,138.6 L898.6,139.0 L900.2,139.5 L901.8,140.1 L903.3,140.7 L904.8,141.3 L906.3,141.9 L907.8,142.5 L909.3,143.1 L910.9,143.6 L912.5,144.0 L914.1,144.4 L915.7,144.6 L917.3,144.7 L918.9,144.8 L920.5,144.7 L922.1,144.6 L923.7,144.5 L925.3,144.3 L926.9,144.0 L928.5,143.8 L930.1,143.6 L931.7,143.4 L933.3,143.2 L934.9,143.0 L936.5,142.9 L938.1,142.9 L939.7,142.9 L941.3,143.0 L942.9,143.2 L944.5,143.4 L946.1,143.7 L947.7,143.9 L949.3,144.1 L950.9,144.3 L952.5,144.4 L954.1,144.4 L955.7,144.3 L957.3,144.1 L958.9,143.9 L960.5,143.6 L962.1,143.4 L963.7,143.1 L965.3,143.0 L966.9,142.8 L968.5,142.8 L970.1,142.8 L971.7,142.9 L973.3,143.0 L974.9,143.1 L976.5,143.3 L978.1,143.4 L979.7,143.5 L981.3,143.6 L982.9,143.7 L984.5,143.7 L986.1,143.6 L987.7,143.4 L989.3,143.1 L990.9,142.7 L992.5,142.2 L994.0,141.6 L995.5,140.9 L997.0,140.1 L998.4,139.2 L999.8,138.3 L1001.2,137.3 L1002.6,136.4 L1004.0,135.4 L1005.4,134.6 L1006.9,133.8 L1008.4,133.2 L1010.0,132.8 L1011.6,132.5 L1013.2,132.4 L1014.8,132.4 L1016.4,132.6 L1018.0,132.8 L1019.6,133.1 L1021.2,133.4 L1022.8,133.7 L1024.4,134.1 L1026.0,134.5 L1027.6,134.8 L1029.2,135.2 L1030.8,135.5 L1032.4,135.8 L1034.0,136.1 L1035.6,136.3 L1037.2,136.5 L1038.8,136.7 L1040.4,136.9 L1042.0,136.9 L1043.6,137.0 L1045.2,136.9 L1046.8,136.8 L1048.4,136.7 L1050.0,136.4 L1051.6,136.1 L1053.2,135.7 L1054.8,135.3 L1056.4,134.7 L1057.9,134.1 L1059.4,133.5 L1060.9,132.8 L1062.5,132.2 L1064.1,131.8 L1065.7,131.6 L1067.3,131.8 L1068.9,132.2 L1070.4,132.8 L1071.9,133.5 L1073.4,134.1 L1075.0,134.6 L1076.6,135.0 L1078.2,135.3 L1079.8,135.6 L1081.4,135.7 L1083.0,135.8 L1084.6,135.9 L1086.2,135.9 L1087.8,136.0 L1089.4,136.1 L1091.0,136.3 L1092.6,136.5 L1094.2,136.7 L1095.8,137.0 L1097.4,137.4 L1099.0,137.8 L1100.6,138.3 L1102.2,138.7 L1103.8,139.2 L1105.4,139.5 L1107.0,139.8 L1108.6,140.0 L1110.2,140.1 L1111.8,140.0 L1113.4,139.9 L1115.0,139.6 L1116.6,139.3 L1118.2,139.1 L1119.8,138.9 L1121.4,138.7 L1123.0,138.6 L1124.6,138.6 L1126.2,138.7 L1127.8,138.8 L1129.4,138.9 L1131.0,139.1 L1132.6,139.3 L1134.2,139.5 L1135.8,139.7 L1137.4,139.9 L1139.0,140.1 L1140.6,140.3 L1142.2,140.4 L1143.8,140.5 L1145.4,140.5 L1147.0,140.5 L1148.6,140.4 L1149.5,140.4" fill="none" stroke="#00aa5f" stroke-width="4.8" stroke-linejoin="round" stroke-linecap="butt"/><path d="M320.6,282.6 L321.7,281.3 L322.8,279.9 L323.8,278.6 L324.8,277.3 L325.8,276.0 L326.8,274.7 L327.8,273.3 L328.8,272.0 L329.8,270.6 L330.8,269.2 L331.8,267.8 L332.8,266.4 L333.8,265.0 L334.8,263.6 L335.8,262.2 L336.8,260.9 L337.8,259.5 L338.8,258.2 L339.8,257.0 L340.9,255.6 L342.0,254.3 L343.1,253.0 L344.2,251.8 L345.4,250.5 L346.6,249.4 L347.8,248.3 L349.1,247.3 L350.5,246.3 L351.9,245.4 L353.4,244.7 L354.9,244.0 L356.4,243.4 L357.9,242.8 L359.4,242.1 L360.9,241.3 L362.3,240.3 L363.6,239.3 L364.8,238.2 L366.0,237.0 L367.2,235.8 L368.3,234.6 L369.4,233.4 L370.5,232.2 L371.6,230.9 L372.7,229.7 L373.8,228.5 L374.9,227.4 L376.1,226.1 L377.3,224.9 L378.5,223.6 L379.7,222.5 L380.9,221.3 L382.1,220.2 L383.4,219.1 L384.7,218.0 L386.0,217.0 L387.3,216.1 L388.7,215.1 L390.1,214.2 L391.5,213.4 L393.0,212.6 L394.5,211.8 L396.0,211.1 L397.5,210.5 L399.0,209.8 L400.5,209.2 L402.0,208.6 L403.5,208.1 L405.0,207.5 L406.5,206.9 L408.0,206.3 L409.5,205.7 L411.0,205.1 L412.5,204.5 L414.0,203.8 L415.5,203.1 L417.0,202.4 L418.5,201.7 L420.0,200.9 L421.5,200.2 L423.0,199.4 L424.5,198.6 L426.0,197.8 L427.5,197.1 L429.0,196.3 L430.5,195.5 L432.0,194.8 L433.5,194.0 L435.0,193.2 L436.5,192.5 L438.0,191.8 L439.5,191.0 L441.0,190.3 L442.5,189.5 L444.0,188.7 L445.4,187.9 L446.8,187.1 L448.2,186.2 L449.6,185.3 L451.0,184.4 L452.4,183.4 L453.8,182.5 L455.2,181.6 L456.7,180.9 L458.3,180.3 L459.9,180.0 L461.5,179.9 L463.1,179.8 L464.7,179.7 L466.3,179.5 L467.9,179.1 L469.4,178.5 L470.9,177.8 L472.4,177.0 L473.8,176.3 L475.2,175.5 L476.6,174.7 L478.1,173.8 L479.6,173.1 L481.1,172.5 L482.7,172.0 L484.3,171.7 L485.9,171.4 L487.5,171.3 L489.1,171.1 L490.7,170.9 L492.3,170.6 L493.9,170.3 L495.5,169.8 L497.1,169.4 L498.7,168.9 L500.3,168.4 L501.9,168.0 L503.5,167.6 L505.1,167.2 L506.7,166.9 L508.3,166.7 L509.9,166.6 L511.5,166.5 L513.1,166.4 L514.7,166.3 L516.3,166.2 L517.9,166.0 L519.5,165.7 L521.1,165.3 L522.7,164.7 L524.2,164.2 L525.7,163.5 L527.2,162.8 L528.7,162.1 L530.2,161.3 L531.7,160.5 L533.2,159.7 L534.7,158.9 L536.2,158.1 L537.7,157.4 L539.2,156.7 L540.7,156.0 L542.2,155.4 L543.8,154.9 L545.4,154.4 L547.0,154.0 L548.6,153.7 L550.2,153.4 L551.8,153.1 L553.4,152.9 L555.0,152.7 L556.6,152.5 L558.2,152.4 L559.8,152.2 L561.4,152.1 L563.0,152.0 L564.6,152.0 L566.2,151.9 L567.8,151.8 L569.4,151.8 L571.0,151.8 L572.6,151.8 L574.2,151.8 L575.8,151.8 L577.4,151.8 L579.0,151.9 L580.6,151.9 L582.2,151.9 L583.8,151.9 L585.4,151.8 L587.0,151.8 L588.6,151.7 L590.2,151.5 L591.8,151.3 L593.4,151.0 L595.0,150.7 L596.6,150.4 L598.2,150.0 L599.8,149.6 L601.4,149.2 L603.0,148.9 L604.6,148.5 L606.2,148.2 L607.8,148.0 L609.4,147.8 L611.0,147.7 L612.6,147.6 L614.2,147.7 L615.8,147.9 L617.4,148.2 L619.0,148.6 L620.6,149.2 L622.1,149.8 L623.6,150.5 L625.1,151.1 L626.6,151.7 L628.2,152.2 L629.8,152.6 L631.4,152.8 L633.0,152.8 L634.6,152.8 L636.2,152.7 L637.8,152.5 L639.4,152.4 L641.0,152.3 L642.6,152.2 L644.2,152.2 L645.8,152.2 L647.4,152.2 L649.0,152.2 L650.6,152.3 L652.2,152.3 L653.8,152.3 L655.4,152.4 L657.0,152.3 L658.6,152.3 L660.2,152.2 L661.8,152.1 L663.4,152.0 L665.0,151.7 L666.6,151.4 L668.2,151.1 L669.8,150.6 L671.4,150.1 L672.9,149.6 L674.4,148.9 L675.9,148.2 L677.4,147.5 L678.9,146.9 L680.4,146.2 L681.9,145.6 L683.5,145.0 L685.1,144.5 L686.7,144.2 L688.3,144.0 L689.9,143.9 L691.5,143.9 L693.1,143.9 L694.7,144.0 L696.3,144.1 L697.9,144.2 L699.5,144.3 L701.1,144.4 L702.7,144.4 L704.3,144.4 L705.9,144.3 L707.5,144.2 L709.1,144.0 L710.7,143.7 L712.3,143.4 L713.9,143.1 L715.5,142.7 L717.1,142.2 L718.7,141.8 L720.3,141.3 L721.9,140.8 L723.5,140.2 L725.1,139.7 L726.7,139.2 L728.3,138.7 L729.9,138.2 L731.5,137.8 L733.1,137.4 L734.7,137.0 L736.3,136.6 L737.9,136.3 L739.5,136.0 L741.1,135.8 L742.7,135.6 L744.3,135.5 L745.9,135.5 L747.5,135.5 L749.1,135.6 L750.7,135.8 L752.3,136.1 L753.9,136.5 L755.5,137.0 L757.1,137.6 L758.6,138.3 L760.1,138.9 L761.6,139.6 L763.1,140.2 L764.7,140.7 L766.3,141.0 L767.9,141.1 L769.5,141.0 L771.1,140.8 L772.7,140.6 L774.3,140.3 L775.9,140.1 L777.5,139.9 L779.1,139.9 L780.7,139.9 L782.3,140.1 L783.9,140.4 L785.5,140.8 L787.1,141.2 L788.7,141.7 L790.3,142.3 L791.9,142.8 L793.5,143.4 L795.1,144.0 L796.7,144.5 L798.3,145.0 L799.9,145.5 L801.5,145.9 L803.1,146.2 L804.7,146.4 L806.3,146.5 L807.9,146.5 L809.5,146.4 L811.1,146.3 L812.7,146.0 L814.3,145.8 L815.9,145.4 L817.5,145.1 L819.1,144.7 L820.7,144.3 L822.3,143.9 L823.9,143.5 L825.5,143.1 L827.1,142.8 L828.7,142.5 L830.3,142.2 L831.9,142.1 L833.5,142.0 L835.1,142.1 L836.7,142.2 L838.3,142.4 L839.9,142.7 L841.5,142.9 L843.1,143.1 L844.7,143.3 L846.3,143.4 L847.9,143.4 L849.5,143.3 L851.1,143.0 L852.7,142.7 L854.3,142.2 L855.9,141.6 L857.4,141.1 L858.9,140.5 L860.4,139.8 L861.9,139.2 L863.4,138.7 L865.0,138.1 L866.6,137.7 L868.2,137.4 L869.8,137.3 L871.4,137.5 L873.0,137.8 L874.6,138.2 L876.2,138.8 L877.8,139.3 L879.4,139.7 L881.0,139.9 L882.6,139.9 L884.2,139.7 L885.8,139.4 L887.4,139.0 L889.0,138.6 L890.6,138.3 L892.2,138.1 L893.8,138.1 L895.4,138.3 L897.0,138.6 L898.6,139.0 L900.2,139.5 L901.8,140.1 L903.3,140.7 L904.8,141.3 L906.3,141.9 L907.8,142.5 L909.3,143.1 L910.9,143.6 L912.5,144.0 L914.1,144.4 L915.7,144.6 L917.3,144.7 L918.9,144.8 L920.5,144.7 L922.1,144.6 L923.7,144.5 L925.3,144.3 L926.9,144.0 L928.5,143.8 L930.1,143.6 L931.7,143.4 L933.3,143.2 L934.9,143.0 L936.5,142.9 L938.1,142.9 L939.7,142.9 L941.3,143.0 L942.9,143.2 L944.5,143.4 L946.1,143.7 L947.7,143.9 L949.3,144.1 L950.9,144.3 L952.5,144.4 L954.1,144.4 L955.7,144.3 L957.3,144.1 L958.9,143.9 L960.5,143.6 L962.1,143.4 L963.7,143.1 L965.3,143.0 L966.9,142.8 L968.5,142.8 L970.1,142.8 L971.7,142.9 L973.3,143.0 L974.9,143.1 L976.5,143.3 L978.1,143.4 L979.7,143.5 L981.3,143.6 L982.9,143.7 L984.5,143.7 L986.1,143.6 L987.7,143.4 L989.3,143.1 L990.9,142.7 L992.5,142.2 L994.0,141.6 L995.5,140.9 L997.0,140.1 L998.4,139.2 L999.8,138.3 L1001.2,137.3 L1002.6,136.4 L1004.0,135.4 L1005.4,134.6 L1006.9,133.8 L1008.4,133.2 L1010.0,132.8 L1011.6,132.5 L1013.2,132.4 L1014.8,132.4 L1016.4,132.6 L1018.0,132.8 L1019.6,133.1 L1021.2,133.4 L1022.8,133.7 L1024.4,134.1 L1026.0,134.5 L1027.6,134.8 L1029.2,135.2 L1030.8,135.5 L1032.4,135.8 L1034.0,136.1 L1035.6,136.3 L1037.2,136.5 L1038.8,136.7 L1040.4,136.9 L1042.0,136.9 L1043.6,137.0 L1045.2,136.9 L1046.8,136.8 L1048.4,136.7 L1050.0,136.4 L1051.6,136.1 L1053.2,135.7 L1054.8,135.3 L1056.4,134.7 L1057.9,134.1 L1059.4,133.5 L1060.9,132.8 L1062.5,132.2 L1064.1,131.8 L1065.7,131.6 L1067.3,131.8 L1068.9,132.2 L1070.4,132.8 L1071.9,133.5 L1073.4,134.1 L1075.0,134.6 L1076.6,135.0 L1078.2,135.3 L1079.8,135.6 L1081.4,135.7 L1083.0,135.8 L1084.6,135.9 L1086.2,135.9 L1087.8,136.0 L1089.4,136.1 L1091.0,136.3 L1092.6,136.5 L1094.2,136.7 L1095.8,137.0 L1097.4,137.4 L1099.0,137.8 L1100.6,138.3 L1102.2,138.7 L1103.8,139.2 L1105.4,139.5 L1107.0,139.8 L1108.6,140.0 L1110.2,140.1 L1111.8,140.0 L1113.4,139.9 L1115.0,139.6 L1116.6,139.3 L1118.2,139.1 L1119.8,138.9 L1121.4,138.7 L1123.0,138.6 L1124.6,138.6 L1126.2,138.7 L1127.8,138.8 L1129.4,138.9 L1131.0,139.1 L1132.6,139.3 L1134.2,139.5 L1135.8,139.7 L1137.4,139.9 L1139.0,140.1 L1140.6,140.3 L1142.2,140.4 L1143.8,140.5 L1145.4,140.5 L1147.0,140.5 L1148.6,140.4 L1149.5,140.4" fill="none" stroke="#00aa5f" stroke-width="5.10" stroke-linejoin="round" stroke-linecap="butt"/><path d="M345.4,250.5 L346.6,249.4 L347.8,248.3 L349.1,247.3 L350.5,246.3 L351.9,245.4 L353.4,244.7 L354.9,244.0 L356.4,243.4 L357.9,242.8 L359.4,242.1 L360.9,241.3 L362.3,240.3 L363.6,239.3 L364.8,238.2 L366.0,237.0 L367.2,235.8 L368.3,234.6 L369.4,233.4 L370.5,232.2 L371.6,230.9 L372.7,229.7 L373.8,228.5 L374.9,227.4 L376.1,226.1 L377.3,224.9 L378.5,223.6 L379.7,222.5 L380.9,221.3 L382.1,220.2 L383.4,219.1 L384.7,218.0 L386.0,217.0 L387.3,216.1 L388.7,215.1 L390.1,214.2 L391.5,213.4 L393.0,212.6 L394.5,211.8 L396.0,211.1 L397.5,210.5 L399.0,209.8 L400.5,209.2 L402.0,208.6 L403.5,208.1 L405.0,207.5 L406.5,206.9 L408.0,206.3 L409.5,205.7 L411.0,205.1 L412.5,204.5 L414.0,203.8 L415.5,203.1 L417.0,202.4 L418.5,201.7 L420.0,200.9 L421.5,200.2 L423.0,199.4 L424.5,198.6 L426.0,197.8 L427.5,197.1 L429.0,196.3 L430.5,195.5 L432.0,194.8 L433.5,194.0 L435.0,193.2 L436.5,192.5 L438.0,191.8 L439.5,191.0 L441.0,190.3 L442.5,189.5 L444.0,188.7 L445.4,187.9 L446.8,187.1 L448.2,186.2 L449.6,185.3 L451.0,184.4 L452.4,183.4 L453.8,182.5 L455.2,181.6 L456.7,180.9 L458.3,180.3 L459.9,180.0 L461.5,179.9 L463.1,179.8 L464.7,179.7 L466.3,179.5 L467.9,179.1 L469.4,178.5 L470.9,177.8 L472.4,177.0 L473.8,176.3 L475.2,175.5 L476.6,174.7 L478.1,173.8 L479.6,173.1 L481.1,172.5 L482.7,172.0 L484.3,171.7 L485.9,171.4 L487.5,171.3 L489.1,171.1 L490.7,170.9 L492.3,170.6 L493.9,170.3 L495.5,169.8 L497.1,169.4 L498.7,168.9 L500.3,168.4 L501.9,168.0 L503.5,167.6 L505.1,167.2 L506.7,166.9 L508.3,166.7 L509.9,166.6 L511.5,166.5 L513.1,166.4 L514.7,166.3 L516.3,166.2 L517.9,166.0 L519.5,165.7 L521.1,165.3 L522.7,164.7 L524.2,164.2 L525.7,163.5 L527.2,162.8 L528.7,162.1 L530.2,161.3 L531.7,160.5 L533.2,159.7 L534.7,158.9 L536.2,158.1 L537.7,157.4 L539.2,156.7 L540.7,156.0 L542.2,155.4 L543.8,154.9 L545.4,154.4 L547.0,154.0 L548.6,153.7 L550.2,153.4 L551.8,153.1 L553.4,152.9 L555.0,152.7 L556.6,152.5 L558.2,152.4 L559.8,152.2 L561.4,152.1 L563.0,152.0 L564.6,152.0 L566.2,151.9 L567.8,151.8 L569.4,151.8 L571.0,151.8 L572.6,151.8 L574.2,151.8 L575.8,151.8 L577.4,151.8 L579.0,151.9 L580.6,151.9 L582.2,151.9 L583.8,151.9 L585.4,151.8 L587.0,151.8 L588.6,151.7 L590.2,151.5 L591.8,151.3 L593.4,151.0 L595.0,150.7 L596.6,150.4 L598.2,150.0 L599.8,149.6 L601.4,149.2 L603.0,148.9 L604.6,148.5 L606.2,148.2 L607.8,148.0 L609.4,147.8 L611.0,147.7 L612.6,147.6 L614.2,147.7 L615.8,147.9 L617.4,148.2 L619.0,148.6 L620.6,149.2 L622.1,149.8 L623.6,150.5 L625.1,151.1 L626.6,151.7 L628.2,152.2 L629.8,152.6 L631.4,152.8 L633.0,152.8 L634.6,152.8 L636.2,152.7 L637.8,152.5 L639.4,152.4 L641.0,152.3 L642.6,152.2 L644.2,152.2 L645.8,152.2 L647.4,152.2 L649.0,152.2 L650.6,152.3 L652.2,152.3 L653.8,152.3 L655.4,152.4 L657.0,152.3 L658.6,152.3 L660.2,152.2 L661.8,152.1 L663.4,152.0 L665.0,151.7 L666.6,151.4 L668.2,151.1 L669.8,150.6 L671.4,150.1 L672.9,149.6 L674.4,148.9 L675.9,148.2 L677.4,147.5 L678.9,146.9 L680.4,146.2 L681.9,145.6 L683.5,145.0 L685.1,144.5 L686.7,144.2 L688.3,144.0 L689.9,143.9 L691.5,143.9 L693.1,143.9 L694.7,144.0 L696.3,144.1 L697.9,144.2 L699.5,144.3 L701.1,144.4 L702.7,144.4 L704.3,144.4 L705.9,144.3 L707.5,144.2 L709.1,144.0 L710.7,143.7 L712.3,143.4 L713.9,143.1 L715.5,142.7 L717.1,142.2 L718.7,141.8 L720.3,141.3 L721.9,140.8 L723.5,140.2 L725.1,139.7 L726.7,139.2 L728.3,138.7 L729.9,138.2 L731.5,137.8 L733.1,137.4 L734.7,137.0 L736.3,136.6 L737.9,136.3 L739.5,136.0 L741.1,135.8 L742.7,135.6 L744.3,135.5 L745.9,135.5 L747.5,135.5 L749.1,135.6 L750.7,135.8 L752.3,136.1 L753.9,136.5 L755.5,137.0 L757.1,137.6 L758.6,138.3 L760.1,138.9 L761.6,139.6 L763.1,140.2 L764.7,140.7 L766.3,141.0 L767.9,141.1 L769.5,141.0 L771.1,140.8 L772.7,140.6 L774.3,140.3 L775.9,140.1 L777.5,139.9 L779.1,139.9 L780.7,139.9 L782.3,140.1 L783.9,140.4 L785.5,140.8 L787.1,141.2 L788.7,141.7 L790.3,142.3 L791.9,142.8 L793.5,143.4 L795.1,144.0 L796.7,144.5 L798.3,145.0 L799.9,145.5 L801.5,145.9 L803.1,146.2 L804.7,146.4 L806.3,146.5 L807.9,146.5 L809.5,146.4 L811.1,146.3 L812.7,146.0 L814.3,145.8 L815.9,145.4 L817.5,145.1 L819.1,144.7 L820.7,144.3 L822.3,143.9 L823.9,143.5 L825.5,143.1 L827.1,142.8 L828.7,142.5 L830.3,142.2 L831.9,142.1 L833.5,142.0 L835.1,142.1 L836.7,142.2 L838.3,142.4 L839.9,142.7 L841.5,142.9 L843.1,143.1 L844.7,143.3 L846.3,143.4 L847.9,143.4 L849.5,143.3 L851.1,143.0 L852.7,142.7 L854.3,142.2 L855.9,141.6 L857.4,141.1 L858.9,140.5 L860.4,139.8 L861.9,139.2 L863.4,138.7 L865.0,138.1 L866.6,137.7 L868.2,137.4 L869.8,137.3 L871.4,137.5 L873.0,137.8 L874.6,138.2 L876.2,138.8 L877.8,139.3 L879.4,139.7 L881.0,139.9 L882.6,139.9 L884.2,139.7 L885.8,139.4 L887.4,139.0 L889.0,138.6 L890.6,138.3 L892.2,138.1 L893.8,138.1 L895.4,138.3 L897.0,138.6 L898.6,139.0 L900.2,139.5 L901.8,140.1 L903.3,140.7 L904.8,141.3 L906.3,141.9 L907.8,142.5 L909.3,143.1 L910.9,143.6 L912.5,144.0 L914.1,144.4 L915.7,144.6 L917.3,144.7 L918.9,144.8 L920.5,144.7 L922.1,144.6 L923.7,144.5 L925.3,144.3 L926.9,144.0 L928.5,143.8 L930.1,143.6 L931.7,143.4 L933.3,143.2 L934.9,143.0 L936.5,142.9 L938.1,142.9 L939.7,142.9 L941.3,143.0 L942.9,143.2 L944.5,143.4 L946.1,143.7 L947.7,143.9 L949.3,144.1 L950.9,144.3 L952.5,144.4 L954.1,144.4 L955.7,144.3 L957.3,144.1 L958.9,143.9 L960.5,143.6 L962.1,143.4 L963.7,143.1 L965.3,143.0 L966.9,142.8 L968.5,142.8 L970.1,142.8 L971.7,142.9 L973.3,143.0 L974.9,143.1 L976.5,143.3 L978.1,143.4 L979.7,143.5 L981.3,143.6 L982.9,143.7 L984.5,143.7 L986.1,143.6 L987.7,143.4 L989.3,143.1 L990.9,142.7 L992.5,142.2 L994.0,141.6 L995.5,140.9 L997.0,140.1 L998.4,139.2 L999.8,138.3 L1001.2,137.3 L1002.6,136.4 L1004.0,135.4 L1005.4,134.6 L1006.9,133.8 L1008.4,133.2 L1010.0,132.8 L1011.6,132.5 L1013.2,132.4 L1014.8,132.4 L1016.4,132.6 L1018.0,132.8 L1019.6,133.1 L1021.2,133.4 L1022.8,133.7 L1024.4,134.1 L1026.0,134.5 L1027.6,134.8 L1029.2,135.2 L1030.8,135.5 L1032.4,135.8 L1034.0,136.1 L1035.6,136.3 L1037.2,136.5 L1038.8,136.7 L1040.4,136.9 L1042.0,136.9 L1043.6,137.0 L1045.2,136.9 L1046.8,136.8 L1048.4,136.7 L1050.0,136.4 L1051.6,136.1 L1053.2,135.7 L1054.8,135.3 L1056.4,134.7 L1057.9,134.1 L1059.4,133.5 L1060.9,132.8 L1062.5,132.2 L1064.1,131.8 L1065.7,131.6 L1067.3,131.8 L1068.9,132.2 L1070.4,132.8 L1071.9,133.5 L1073.4,134.1 L1075.0,134.6 L1076.6,135.0 L1078.2,135.3 L1079.8,135.6 L1081.4,135.7 L1083.0,135.8 L1084.6,135.9 L1086.2,135.9 L1087.8,136.0 L1089.4,136.1 L1091.0,136.3 L1092.6,136.5 L1094.2,136.7 L1095.8,137.0 L1097.4,137.4 L1099.0,137.8 L1100.6,138.3 L1102.2,138.7 L1103.8,139.2 L1105.4,139.5 L1107.0,139.8 L1108.6,140.0 L1110.2,140.1 L1111.8,140.0 L1113.4,139.9 L1115.0,139.6 L1116.6,139.3 L1118.2,139.1 L1119.8,138.9 L1121.4,138.7 L1123.0,138.6 L1124.6,138.6 L1126.2,138.7 L1127.8,138.8 L1129.4,138.9 L1131.0,139.1 L1132.6,139.3 L1134.2,139.5 L1135.8,139.7 L1137.4,139.9 L1139.0,140.1 L1140.6,140.3 L1142.2,140.4 L1143.8,140.5 L1145.4,140.5 L1147.0,140.5 L1148.6,140.4 L1149.5,140.4" fill="none" stroke="#00aa5f" stroke-width="5.40" stroke-linejoin="round" stroke-linecap="butt"/><path d="M370.5,232.2 L371.6,230.9 L372.7,229.7 L373.8,228.5 L374.9,227.4 L376.1,226.1 L377.3,224.9 L378.5,223.6 L379.7,222.5 L380.9,221.3 L382.1,220.2 L383.4,219.1 L384.7,218.0 L386.0,217.0 L387.3,216.1 L388.7,215.1 L390.1,214.2 L391.5,213.4 L393.0,212.6 L394.5,211.8 L396.0,211.1 L397.5,210.5 L399.0,209.8 L400.5,209.2 L402.0,208.6 L403.5,208.1 L405.0,207.5 L406.5,206.9 L408.0,206.3 L409.5,205.7 L411.0,205.1 L412.5,204.5 L414.0,203.8 L415.5,203.1 L417.0,202.4 L418.5,201.7 L420.0,200.9 L421.5,200.2 L423.0,199.4 L424.5,198.6 L426.0,197.8 L427.5,197.1 L429.0,196.3 L430.5,195.5 L432.0,194.8 L433.5,194.0 L435.0,193.2 L436.5,192.5 L438.0,191.8 L439.5,191.0 L441.0,190.3 L442.5,189.5 L444.0,188.7 L445.4,187.9 L446.8,187.1 L448.2,186.2 L449.6,185.3 L451.0,184.4 L452.4,183.4 L453.8,182.5 L455.2,181.6 L456.7,180.9 L458.3,180.3 L459.9,180.0 L461.5,179.9 L463.1,179.8 L464.7,179.7 L466.3,179.5 L467.9,179.1 L469.4,178.5 L470.9,177.8 L472.4,177.0 L473.8,176.3 L475.2,175.5 L476.6,174.7 L478.1,173.8 L479.6,173.1 L481.1,172.5 L482.7,172.0 L484.3,171.7 L485.9,171.4 L487.5,171.3 L489.1,171.1 L490.7,170.9 L492.3,170.6 L493.9,170.3 L495.5,169.8 L497.1,169.4 L498.7,168.9 L500.3,168.4 L501.9,168.0 L503.5,167.6 L505.1,167.2 L506.7,166.9 L508.3,166.7 L509.9,166.6 L511.5,166.5 L513.1,166.4 L514.7,166.3 L516.3,166.2 L517.9,166.0 L519.5,165.7 L521.1,165.3 L522.7,164.7 L524.2,164.2 L525.7,163.5 L527.2,162.8 L528.7,162.1 L530.2,161.3 L531.7,160.5 L533.2,159.7 L534.7,158.9 L536.2,158.1 L537.7,157.4 L539.2,156.7 L540.7,156.0 L542.2,155.4 L543.8,154.9 L545.4,154.4 L547.0,154.0 L548.6,153.7 L550.2,153.4 L551.8,153.1 L553.4,152.9 L555.0,152.7 L556.6,152.5 L558.2,152.4 L559.8,152.2 L561.4,152.1 L563.0,152.0 L564.6,152.0 L566.2,151.9 L567.8,151.8 L569.4,151.8 L571.0,151.8 L572.6,151.8 L574.2,151.8 L575.8,151.8 L577.4,151.8 L579.0,151.9 L580.6,151.9 L582.2,151.9 L583.8,151.9 L585.4,151.8 L587.0,151.8 L588.6,151.7 L590.2,151.5 L591.8,151.3 L593.4,151.0 L595.0,150.7 L596.6,150.4 L598.2,150.0 L599.8,149.6 L601.4,149.2 L603.0,148.9 L604.6,148.5 L606.2,148.2 L607.8,148.0 L609.4,147.8 L611.0,147.7 L612.6,147.6 L614.2,147.7 L615.8,147.9 L617.4,148.2 L619.0,148.6 L620.6,149.2 L622.1,149.8 L623.6,150.5 L625.1,151.1 L626.6,151.7 L628.2,152.2 L629.8,152.6 L631.4,152.8 L633.0,152.8 L634.6,152.8 L636.2,152.7 L637.8,152.5 L639.4,152.4 L641.0,152.3 L642.6,152.2 L644.2,152.2 L645.8,152.2 L647.4,152.2 L649.0,152.2 L650.6,152.3 L652.2,152.3 L653.8,152.3 L655.4,152.4 L657.0,152.3 L658.6,152.3 L660.2,152.2 L661.8,152.1 L663.4,152.0 L665.0,151.7 L666.6,151.4 L668.2,151.1 L669.8,150.6 L671.4,150.1 L672.9,149.6 L674.4,148.9 L675.9,148.2 L677.4,147.5 L678.9,146.9 L680.4,146.2 L681.9,145.6 L683.5,145.0 L685.1,144.5 L686.7,144.2 L688.3,144.0 L689.9,143.9 L691.5,143.9 L693.1,143.9 L694.7,144.0 L696.3,144.1 L697.9,144.2 L699.5,144.3 L701.1,144.4 L702.7,144.4 L704.3,144.4 L705.9,144.3 L707.5,144.2 L709.1,144.0 L710.7,143.7 L712.3,143.4 L713.9,143.1 L715.5,142.7 L717.1,142.2 L718.7,141.8 L720.3,141.3 L721.9,140.8 L723.5,140.2 L725.1,139.7 L726.7,139.2 L728.3,138.7 L729.9,138.2 L731.5,137.8 L733.1,137.4 L734.7,137.0 L736.3,136.6 L737.9,136.3 L739.5,136.0 L741.1,135.8 L742.7,135.6 L744.3,135.5 L745.9,135.5 L747.5,135.5 L749.1,135.6 L750.7,135.8 L752.3,136.1 L753.9,136.5 L755.5,137.0 L757.1,137.6 L758.6,138.3 L760.1,138.9 L761.6,139.6 L763.1,140.2 L764.7,140.7 L766.3,141.0 L767.9,141.1 L769.5,141.0 L771.1,140.8 L772.7,140.6 L774.3,140.3 L775.9,140.1 L777.5,139.9 L779.1,139.9 L780.7,139.9 L782.3,140.1 L783.9,140.4 L785.5,140.8 L787.1,141.2 L788.7,141.7 L790.3,142.3 L791.9,142.8 L793.5,143.4 L795.1,144.0 L796.7,144.5 L798.3,145.0 L799.9,145.5 L801.5,145.9 L803.1,146.2 L804.7,146.4 L806.3,146.5 L807.9,146.5 L809.5,146.4 L811.1,146.3 L812.7,146.0 L814.3,145.8 L815.9,145.4 L817.5,145.1 L819.1,144.7 L820.7,144.3 L822.3,143.9 L823.9,143.5 L825.5,143.1 L827.1,142.8 L828.7,142.5 L830.3,142.2 L831.9,142.1 L833.5,142.0 L835.1,142.1 L836.7,142.2 L838.3,142.4 L839.9,142.7 L841.5,142.9 L843.1,143.1 L844.7,143.3 L846.3,143.4 L847.9,143.4 L849.5,143.3 L851.1,143.0 L852.7,142.7 L854.3,142.2 L855.9,141.6 L857.4,141.1 L858.9,140.5 L860.4,139.8 L861.9,139.2 L863.4,138.7 L865.0,138.1 L866.6,137.7 L868.2,137.4 L869.8,137.3 L871.4,137.5 L873.0,137.8 L874.6,138.2 L876.2,138.8 L877.8,139.3 L879.4,139.7 L881.0,139.9 L882.6,139.9 L884.2,139.7 L885.8,139.4 L887.4,139.0 L889.0,138.6 L890.6,138.3 L892.2,138.1 L893.8,138.1 L895.4,138.3 L897.0,138.6 L898.6,139.0 L900.2,139.5 L901.8,140.1 L903.3,140.7 L904.8,141.3 L906.3,141.9 L907.8,142.5 L909.3,143.1 L910.9,143.6 L912.5,144.0 L914.1,144.4 L915.7,144.6 L917.3,144.7 L918.9,144.8 L920.5,144.7 L922.1,144.6 L923.7,144.5 L925.3,144.3 L926.9,144.0 L928.5,143.8 L930.1,143.6 L931.7,143.4 L933.3,143.2 L934.9,143.0 L936.5,142.9 L938.1,142.9 L939.7,142.9 L941.3,143.0 L942.9,143.2 L944.5,143.4 L946.1,143.7 L947.7,143.9 L949.3,144.1 L950.9,144.3 L952.5,144.4 L954.1,144.4 L955.7,144.3 L957.3,144.1 L958.9,143.9 L960.5,143.6 L962.1,143.4 L963.7,143.1 L965.3,143.0 L966.9,142.8 L968.5,142.8 L970.1,142.8 L971.7,142.9 L973.3,143.0 L974.9,143.1 L976.5,143.3 L978.1,143.4 L979.7,143.5 L981.3,143.6 L982.9,143.7 L984.5,143.7 L986.1,143.6 L987.7,143.4 L989.3,143.1 L990.9,142.7 L992.5,142.2 L994.0,141.6 L995.5,140.9 L997.0,140.1 L998.4,139.2 L999.8,138.3 L1001.2,137.3 L1002.6,136.4 L1004.0,135.4 L1005.4,134.6 L1006.9,133.8 L1008.4,133.2 L1010.0,132.8 L1011.6,132.5 L1013.2,132.4 L1014.8,132.4 L1016.4,132.6 L1018.0,132.8 L1019.6,133.1 L1021.2,133.4 L1022.8,133.7 L1024.4,134.1 L1026.0,134.5 L1027.6,134.8 L1029.2,135.2 L1030.8,135.5 L1032.4,135.8 L1034.0,136.1 L1035.6,136.3 L1037.2,136.5 L1038.8,136.7 L1040.4,136.9 L1042.0,136.9 L1043.6,137.0 L1045.2,136.9 L1046.8,136.8 L1048.4,136.7 L1050.0,136.4 L1051.6,136.1 L1053.2,135.7 L1054.8,135.3 L1056.4,134.7 L1057.9,134.1 L1059.4,133.5 L1060.9,132.8 L1062.5,132.2 L1064.1,131.8 L1065.7,131.6 L1067.3,131.8 L1068.9,132.2 L1070.4,132.8 L1071.9,133.5 L1073.4,134.1 L1075.0,134.6 L1076.6,135.0 L1078.2,135.3 L1079.8,135.6 L1081.4,135.7 L1083.0,135.8 L1084.6,135.9 L1086.2,135.9 L1087.8,136.0 L1089.4,136.1 L1091.0,136.3 L1092.6,136.5 L1094.2,136.7 L1095.8,137.0 L1097.4,137.4 L1099.0,137.8 L1100.6,138.3 L1102.2,138.7 L1103.8,139.2 L1105.4,139.5 L1107.0,139.8 L1108.6,140.0 L1110.2,140.1 L1111.8,140.0 L1113.4,139.9 L1115.0,139.6 L1116.6,139.3 L1118.2,139.1 L1119.8,138.9 L1121.4,138.7 L1123.0,138.6 L1124.6,138.6 L1126.2,138.7 L1127.8,138.8 L1129.4,138.9 L1131.0,139.1 L1132.6,139.3 L1134.2,139.5 L1135.8,139.7 L1137.4,139.9 L1139.0,140.1 L1140.6,140.3 L1142.2,140.4 L1143.8,140.5 L1145.4,140.5 L1147.0,140.5 L1148.6,140.4 L1149.5,140.4" fill="none" stroke="#00aa5f" stroke-width="5.70" stroke-linejoin="round" stroke-linecap="butt"/><path d="M396.0,211.1 L397.5,210.5 L399.0,209.8 L400.5,209.2 L402.0,208.6 L403.5,208.1 L405.0,207.5 L406.5,206.9 L408.0,206.3 L409.5,205.7 L411.0,205.1 L412.5,204.5 L414.0,203.8 L415.5,203.1 L417.0,202.4 L418.5,201.7 L420.0,200.9 L421.5,200.2 L423.0,199.4 L424.5,198.6 L426.0,197.8 L427.5,197.1 L429.0,196.3 L430.5,195.5 L432.0,194.8 L433.5,194.0 L435.0,193.2 L436.5,192.5 L438.0,191.8 L439.5,191.0 L441.0,190.3 L442.5,189.5 L444.0,188.7 L445.4,187.9 L446.8,187.1 L448.2,186.2 L449.6,185.3 L451.0,184.4 L452.4,183.4 L453.8,182.5 L455.2,181.6 L456.7,180.9 L458.3,180.3 L459.9,180.0 L461.5,179.9 L463.1,179.8 L464.7,179.7 L466.3,179.5 L467.9,179.1 L469.4,178.5 L470.9,177.8 L472.4,177.0 L473.8,176.3 L475.2,175.5 L476.6,174.7 L478.1,173.8 L479.6,173.1 L481.1,172.5 L482.7,172.0 L484.3,171.7 L485.9,171.4 L487.5,171.3 L489.1,171.1 L490.7,170.9 L492.3,170.6 L493.9,170.3 L495.5,169.8 L497.1,169.4 L498.7,168.9 L500.3,168.4 L501.9,168.0 L503.5,167.6 L505.1,167.2 L506.7,166.9 L508.3,166.7 L509.9,166.6 L511.5,166.5 L513.1,166.4 L514.7,166.3 L516.3,166.2 L517.9,166.0 L519.5,165.7 L521.1,165.3 L522.7,164.7 L524.2,164.2 L525.7,163.5 L527.2,162.8 L528.7,162.1 L530.2,161.3 L531.7,160.5 L533.2,159.7 L534.7,158.9 L536.2,158.1 L537.7,157.4 L539.2,156.7 L540.7,156.0 L542.2,155.4 L543.8,154.9 L545.4,154.4 L547.0,154.0 L548.6,153.7 L550.2,153.4 L551.8,153.1 L553.4,152.9 L555.0,152.7 L556.6,152.5 L558.2,152.4 L559.8,152.2 L561.4,152.1 L563.0,152.0 L564.6,152.0 L566.2,151.9 L567.8,151.8 L569.4,151.8 L571.0,151.8 L572.6,151.8 L574.2,151.8 L575.8,151.8 L577.4,151.8 L579.0,151.9 L580.6,151.9 L582.2,151.9 L583.8,151.9 L585.4,151.8 L587.0,151.8 L588.6,151.7 L590.2,151.5 L591.8,151.3 L593.4,151.0 L595.0,150.7 L596.6,150.4 L598.2,150.0 L599.8,149.6 L601.4,149.2 L603.0,148.9 L604.6,148.5 L606.2,148.2 L607.8,148.0 L609.4,147.8 L611.0,147.7 L612.6,147.6 L614.2,147.7 L615.8,147.9 L617.4,148.2 L619.0,148.6 L620.6,149.2 L622.1,149.8 L623.6,150.5 L625.1,151.1 L626.6,151.7 L628.2,152.2 L629.8,152.6 L631.4,152.8 L633.0,152.8 L634.6,152.8 L636.2,152.7 L637.8,152.5 L639.4,152.4 L641.0,152.3 L642.6,152.2 L644.2,152.2 L645.8,152.2 L647.4,152.2 L649.0,152.2 L650.6,152.3 L652.2,152.3 L653.8,152.3 L655.4,152.4 L657.0,152.3 L658.6,152.3 L660.2,152.2 L661.8,152.1 L663.4,152.0 L665.0,151.7 L666.6,151.4 L668.2,151.1 L669.8,150.6 L671.4,150.1 L672.9,149.6 L674.4,148.9 L675.9,148.2 L677.4,147.5 L678.9,146.9 L680.4,146.2 L681.9,145.6 L683.5,145.0 L685.1,144.5 L686.7,144.2 L688.3,144.0 L689.9,143.9 L691.5,143.9 L693.1,143.9 L694.7,144.0 L696.3,144.1 L697.9,144.2 L699.5,144.3 L701.1,144.4 L702.7,144.4 L704.3,144.4 L705.9,144.3 L707.5,144.2 L709.1,144.0 L710.7,143.7 L712.3,143.4 L713.9,143.1 L715.5,142.7 L717.1,142.2 L718.7,141.8 L720.3,141.3 L721.9,140.8 L723.5,140.2 L725.1,139.7 L726.7,139.2 L728.3,138.7 L729.9,138.2 L731.5,137.8 L733.1,137.4 L734.7,137.0 L736.3,136.6 L737.9,136.3 L739.5,136.0 L741.1,135.8 L742.7,135.6 L744.3,135.5 L745.9,135.5 L747.5,135.5 L749.1,135.6 L750.7,135.8 L752.3,136.1 L753.9,136.5 L755.5,137.0 L757.1,137.6 L758.6,138.3 L760.1,138.9 L761.6,139.6 L763.1,140.2 L764.7,140.7 L766.3,141.0 L767.9,141.1 L769.5,141.0 L771.1,140.8 L772.7,140.6 L774.3,140.3 L775.9,140.1 L777.5,139.9 L779.1,139.9 L780.7,139.9 L782.3,140.1 L783.9,140.4 L785.5,140.8 L787.1,141.2 L788.7,141.7 L790.3,142.3 L791.9,142.8 L793.5,143.4 L795.1,144.0 L796.7,144.5 L798.3,145.0 L799.9,145.5 L801.5,145.9 L803.1,146.2 L804.7,146.4 L806.3,146.5 L807.9,146.5 L809.5,146.4 L811.1,146.3 L812.7,146.0 L814.3,145.8 L815.9,145.4 L817.5,145.1 L819.1,144.7 L820.7,144.3 L822.3,143.9 L823.9,143.5 L825.5,143.1 L827.1,142.8 L828.7,142.5 L830.3,142.2 L831.9,142.1 L833.5,142.0 L835.1,142.1 L836.7,142.2 L838.3,142.4 L839.9,142.7 L841.5,142.9 L843.1,143.1 L844.7,143.3 L846.3,143.4 L847.9,143.4 L849.5,143.3 L851.1,143.0 L852.7,142.7 L854.3,142.2 L855.9,141.6 L857.4,141.1 L858.9,140.5 L860.4,139.8 L861.9,139.2 L863.4,138.7 L865.0,138.1 L866.6,137.7 L868.2,137.4 L869.8,137.3 L871.4,137.5 L873.0,137.8 L874.6,138.2 L876.2,138.8 L877.8,139.3 L879.4,139.7 L881.0,139.9 L882.6,139.9 L884.2,139.7 L885.8,139.4 L887.4,139.0 L889.0,138.6 L890.6,138.3 L892.2,138.1 L893.8,138.1 L895.4,138.3 L897.0,138.6 L898.6,139.0 L900.2,139.5 L901.8,140.1 L903.3,140.7 L904.8,141.3 L906.3,141.9 L907.8,142.5 L909.3,143.1 L910.9,143.6 L912.5,144.0 L914.1,144.4 L915.7,144.6 L917.3,144.7 L918.9,144.8 L920.5,144.7 L922.1,144.6 L923.7,144.5 L925.3,144.3 L926.9,144.0 L928.5,143.8 L930.1,143.6 L931.7,143.4 L933.3,143.2 L934.9,143.0 L936.5,142.9 L938.1,142.9 L939.7,142.9 L941.3,143.0 L942.9,143.2 L944.5,143.4 L946.1,143.7 L947.7,143.9 L949.3,144.1 L950.9,144.3 L952.5,144.4 L954.1,144.4 L955.7,144.3 L957.3,144.1 L958.9,143.9 L960.5,143.6 L962.1,143.4 L963.7,143.1 L965.3,143.0 L966.9,142.8 L968.5,142.8 L970.1,142.8 L971.7,142.9 L973.3,143.0 L974.9,143.1 L976.5,143.3 L978.1,143.4 L979.7,143.5 L981.3,143.6 L982.9,143.7 L984.5,143.7 L986.1,143.6 L987.7,143.4 L989.3,143.1 L990.9,142.7 L992.5,142.2 L994.0,141.6 L995.5,140.9 L997.0,140.1 L998.4,139.2 L999.8,138.3 L1001.2,137.3 L1002.6,136.4 L1004.0,135.4 L1005.4,134.6 L1006.9,133.8 L1008.4,133.2 L1010.0,132.8 L1011.6,132.5 L1013.2,132.4 L1014.8,132.4 L1016.4,132.6 L1018.0,132.8 L1019.6,133.1 L1021.2,133.4 L1022.8,133.7 L1024.4,134.1 L1026.0,134.5 L1027.6,134.8 L1029.2,135.2 L1030.8,135.5 L1032.4,135.8 L1034.0,136.1 L1035.6,136.3 L1037.2,136.5 L1038.8,136.7 L1040.4,136.9 L1042.0,136.9 L1043.6,137.0 L1045.2,136.9 L1046.8,136.8 L1048.4,136.7 L1050.0,136.4 L1051.6,136.1 L1053.2,135.7 L1054.8,135.3 L1056.4,134.7 L1057.9,134.1 L1059.4,133.5 L1060.9,132.8 L1062.5,132.2 L1064.1,131.8 L1065.7,131.6 L1067.3,131.8 L1068.9,132.2 L1070.4,132.8 L1071.9,133.5 L1073.4,134.1 L1075.0,134.6 L1076.6,135.0 L1078.2,135.3 L1079.8,135.6 L1081.4,135.7 L1083.0,135.8 L1084.6,135.9 L1086.2,135.9 L1087.8,136.0 L1089.4,136.1 L1091.0,136.3 L1092.6,136.5 L1094.2,136.7 L1095.8,137.0 L1097.4,137.4 L1099.0,137.8 L1100.6,138.3 L1102.2,138.7 L1103.8,139.2 L1105.4,139.5 L1107.0,139.8 L1108.6,140.0 L1110.2,140.1 L1111.8,140.0 L1113.4,139.9 L1115.0,139.6 L1116.6,139.3 L1118.2,139.1 L1119.8,138.9 L1121.4,138.7 L1123.0,138.6 L1124.6,138.6 L1126.2,138.7 L1127.8,138.8 L1129.4,138.9 L1131.0,139.1 L1132.6,139.3 L1134.2,139.5 L1135.8,139.7 L1137.4,139.9 L1139.0,140.1 L1140.6,140.3 L1142.2,140.4 L1143.8,140.5 L1145.4,140.5 L1147.0,140.5 L1148.6,140.4 L1149.5,140.4" fill="none" stroke="#00aa5f" stroke-width="6.00" stroke-linejoin="round" stroke-linecap="butt"/>
<line x1="1152.5" y1="132.9" x2="1188.9" y2="109.4" stroke="#3c3c3c" stroke-width="1.7"/>
<line x1="1152.5" y1="219.2" x2="1188.9" y2="204.5" stroke="#3c3c3c" stroke-width="1.7"/>
<line x1="1156.6" y1="239.7" x2="1188.9" y2="242.4" stroke="#3c3c3c" stroke-width="1.7"/>
<line x1="1154.5" y1="277.1" x2="1188.9" y2="281.2" stroke="#3c3c3c" stroke-width="1.7"/>
<path d="M210.4,887.51 H227.0 M210.4,773.72 H227.0 M210.4,659.93 H227.0 M210.4,546.14 H227.0 M210.4,432.35 H227.0 M210.4,318.56 H227.0 M210.4,204.77 H227.0 M210.4,90.98 H227.0 M210.4,944.40 H218.8 M210.4,830.62 H218.8 M210.4,716.83 H218.8 M210.4,603.03 H218.8 M210.4,489.25 H218.8 M210.4,375.45 H218.8 M210.4,261.66 H218.8 M210.4,147.88 H218.8 M218.00,1001.1 V982.6 M365.10,1001.1 V982.6 M512.20,1001.1 V982.6 M659.30,1001.1 V982.6 M806.40,1001.1 V982.6 M953.50,1001.1 V982.6 M1100.60,1001.1 V982.6 M1247.70,1001.1 V982.6 M291.55,1001.1 V991.6 M438.65,1001.1 V991.6 M585.75,1001.1 V991.6 M732.85,1001.1 V991.6 M879.95,1001.1 V991.6 M1027.05,1001.1 V991.6" stroke="#000" stroke-width="3.5" fill="none"/>
<rect x="210.4" y="34.3" width="1257.7" height="966.8" fill="none" stroke="#000" stroke-width="3.5"/>
<rect x="884.2" y="698.2" width="558.2" height="256.6" fill="#fefefe" stroke="#1f3c64" stroke-width="2"/>
<line x1="896.5" y1="732.5" x2="1012.5" y2="732.5" stroke="#484848" stroke-width="4.2"/>
<line x1="896.5" y1="794.5" x2="1012.5" y2="794.5" stroke="#ff3333" stroke-width="4.2"/>
<line x1="896.5" y1="856.6" x2="1012.5" y2="856.6" stroke="#0064dd" stroke-width="4.2"/>
<line x1="896.5" y1="918.5" x2="1012.5" y2="918.5" stroke="#00aa5f" stroke-width="4.2"/>
<g font-family="'Liberation Serif', 'Times New Roman', serif" fill="#000" stroke="#000" stroke-width="0.0"><text transform="translate(164.94 1018.90) scale(0.9000 1)" font-size="61.00">0</text><text transform="translate(137.49 905.11) scale(0.9000 1)" font-size="61.00">10</text><text transform="translate(137.49 791.32) scale(0.9000 1)" font-size="61.00">20</text><text transform="translate(137.49 677.53) scale(0.9000 1)" font-size="61.00">30</text><text transform="translate(137.49 563.74) scale(0.9000 1)" font-size="61.00">40</text><text transform="translate(137.49 449.95) scale(0.9000 1)" font-size="61.00">50</text><text transform="translate(137.49 336.16) scale(0.9000 1)" font-size="61.00">60</text><text transform="translate(137.49 222.37) scale(0.9000 1)" font-size="61.00">70</text><text transform="translate(137.49 108.58) scale(0.9000 1)" font-size="61.00">80</text><text transform="translate(192.96 1061.60) scale(1.0214 1)" font-size="55.19">0</text><text transform="translate(310.80 1061.60) scale(0.9878 1)" font-size="55.19">200</text><text transform="translate(456.14 1061.60) scale(0.9573 1)" font-size="55.19">4000</text><text transform="translate(612.30 1061.60) scale(0.9688 1)" font-size="55.19">6000</text><text transform="translate(758.38 1061.60) scale(0.9616 1)" font-size="55.19">8000</text><text transform="translate(889.84 1061.60) scale(0.9385 1)" font-size="55.19">10,000</text><text transform="translate(1048.14 1061.60) scale(0.9385 1)" font-size="55.19">12,000</text><text transform="translate(1204.84 1061.60) scale(0.9385 1)" font-size="55.19">14,000</text><text transform="translate(1198.46 131.90) scale(0.9646 1)" font-size="49.40">75.73</text><text transform="translate(1199.55 195.30) scale(0.9676 1)" font-size="49.17">68.40</text><text transform="translate(1199.57 257.70) scale(0.9579 1)" font-size="49.17">67.04</text><text transform="translate(1199.58 320.00) scale(0.9830 1)" font-size="47.73">63.67</text><text transform="translate(768.74 1146.00) scale(0.9528 1)" font-size="56.03">Time/s</text><text transform="translate(67.70 703.55) rotate(-90) scale(0.9673 1)" font-size="54.66">Temperature/°C</text><text transform="translate(1033.59 744.20) scale(0.9588 1)" font-size="54.20">Monitoring point 1</text><text transform="translate(1033.58 807.50) scale(0.9763 1)" font-size="53.74">Monitoring point 2</text><text transform="translate(1033.59 870.40) scale(0.9717 1)" font-size="53.74">Monitoring point 3</text><text transform="translate(1033.58 933.00) scale(0.9600 1)" font-size="54.50">Monitoring point 4</text></g></g></svg>
</body></html>
